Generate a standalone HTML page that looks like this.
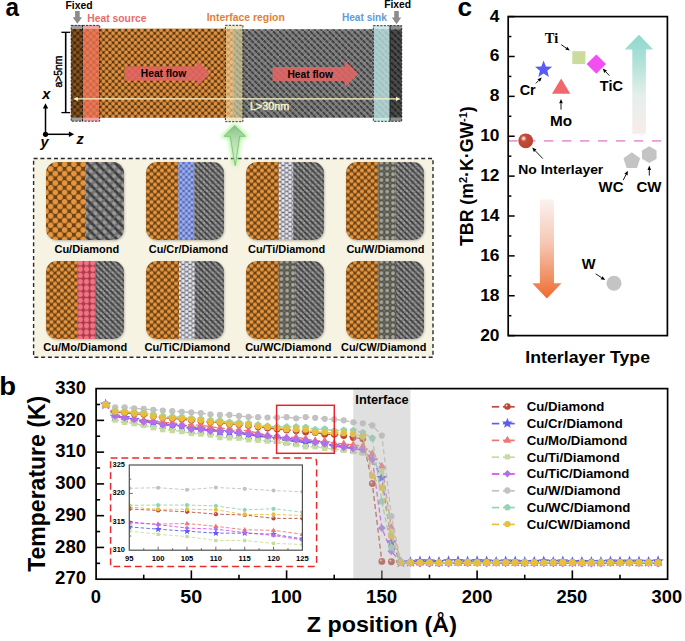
<!DOCTYPE html>
<html><head><meta charset="utf-8"><title>figure</title>
<style>html,body{margin:0;padding:0;background:#fff;width:685px;height:641px;overflow:hidden}svg{display:block}</style>
</head><body>
<svg width="685" height="641" viewBox="0 0 685 641">

<defs>
<pattern id="cuP" patternUnits="userSpaceOnUse" width="6.4" height="6.4" x="1.1" y="4.5">
 <rect width="6.4" height="6.4" fill="#5e3c14"/>
 <circle cx="0" cy="0" r="1.95" fill="#e39140"/><circle cx="6.4" cy="0" r="1.95" fill="#e39140"/>
 <circle cx="0" cy="6.4" r="1.95" fill="#e39140"/><circle cx="6.4" cy="6.4" r="1.95" fill="#e39140"/>
 <circle cx="3.2" cy="3.2" r="1.95" fill="#e39140"/>
 <circle cx="3.2" cy="0" r="0.7" fill="#3e2608"/><circle cx="0" cy="3.2" r="0.7" fill="#3e2608"/>
 <circle cx="6.4" cy="3.2" r="0.7" fill="#3e2608"/><circle cx="3.2" cy="6.4" r="0.7" fill="#3e2608"/>
</pattern>
<pattern id="cuT" patternUnits="userSpaceOnUse" width="9.3" height="9.4" x="0" y="2.2">
 <rect width="9.3" height="9.4" fill="#6a4416"/>
 <circle cx="0" cy="0" r="2.8" fill="#e8953e"/><circle cx="9.3" cy="0" r="2.8" fill="#e8953e"/>
 <circle cx="0" cy="9.4" r="2.8" fill="#e8953e"/><circle cx="9.3" cy="9.4" r="2.8" fill="#e8953e"/>
 <circle cx="4.65" cy="4.7" r="2.8" fill="#e8953e"/>
</pattern>
<pattern id="cuF" patternUnits="userSpaceOnUse" width="7" height="7" x="2" y="1.5">
 <rect width="7" height="7" fill="#6a4416"/>
 <circle cx="0" cy="0" r="2.05" fill="#e8953e"/><circle cx="7" cy="0" r="2.05" fill="#e8953e"/>
 <circle cx="0" cy="7" r="2.05" fill="#e8953e"/><circle cx="7" cy="7" r="2.05" fill="#e8953e"/>
 <circle cx="3.5" cy="3.5" r="2.05" fill="#e8953e"/>
</pattern>
<pattern id="dmP" patternUnits="userSpaceOnUse" width="6.2" height="6.2" x="0" y="0">
 <rect width="6.2" height="6.2" fill="#858585"/>
 <path d="M-1,-1 L7.2,7.2" stroke="#383838" stroke-width="1.8"/>
 <path d="M2.1,-1 L7.2,4.1 M-1,2.1 L4.1,7.2" stroke="#6a6a6a" stroke-width="0.7"/>
 <path d="M-1,7.2 L7.2,-1" stroke="#9a9a9a" stroke-width="0.6"/>
</pattern>
<pattern id="dmT" patternUnits="userSpaceOnUse" width="9.3" height="9.3" x="3" y="0">
 <rect width="9.3" height="9.3" fill="#7a7a7a"/>
 <path d="M-1,-1 L10.3,10.3" stroke="#3c3c3c" stroke-width="2.7"/>
 <circle cx="4.65" cy="0" r="1.9" fill="#9c9c9c"/><circle cx="0" cy="4.65" r="1.9" fill="#9c9c9c"/><circle cx="9.3" cy="4.65" r="1.9" fill="#9c9c9c"/><circle cx="4.65" cy="9.3" r="1.9" fill="#9c9c9c"/>
 <path d="M-1,10.3 L10.3,-1" stroke="#5a5a5a" stroke-width="0.6"/>
</pattern>
<pattern id="dmF" patternUnits="userSpaceOnUse" width="5.8" height="5.8" x="0" y="0">
 <rect width="5.8" height="5.8" fill="#7c7c7c"/>
 <path d="M-1,-1 L6.8,6.8" stroke="#3c3c3c" stroke-width="1.7"/>
 <circle cx="2.9" cy="0" r="1.1" fill="#a0a0a0"/><circle cx="0" cy="2.9" r="1.1" fill="#a0a0a0"/><circle cx="5.8" cy="2.9" r="1.1" fill="#a0a0a0"/><circle cx="2.9" cy="5.8" r="1.1" fill="#a0a0a0"/>
</pattern>
<pattern id="crT" patternUnits="userSpaceOnUse" width="5.6" height="5.6" x="1.2" y="1">
 <rect width="5.6" height="5.6" fill="#5264b0"/>
 <circle cx="0" cy="0" r="1.75" fill="#9cb0f0"/><circle cx="5.6" cy="0" r="1.75" fill="#9cb0f0"/><circle cx="0" cy="5.6" r="1.75" fill="#9cb0f0"/><circle cx="5.6" cy="5.6" r="1.75" fill="#9cb0f0"/>
 <circle cx="2.8" cy="2.8" r="1.75" fill="#9cb0f0"/>
</pattern>
<pattern id="tiT" patternUnits="userSpaceOnUse" width="7" height="4.7" x="0.4" y="1.2">
 <rect width="7" height="4.7" fill="#62626c"/>
 <circle cx="1.75" cy="0" r="1.85" fill="#e4e4ec"/><circle cx="1.75" cy="4.7" r="1.85" fill="#e4e4ec"/><circle cx="5.25" cy="2.35" r="1.85" fill="#e4e4ec"/>
</pattern>
<pattern id="moT" patternUnits="userSpaceOnUse" width="6.3" height="6.3" x="2.7" y="1.8">
 <rect width="6.3" height="6.3" fill="#a83a4c"/>
 <circle cx="0" cy="0" r="2.6" fill="#f27482"/><circle cx="6.3" cy="0" r="2.6" fill="#f27482"/><circle cx="0" cy="6.3" r="2.6" fill="#f27482"/><circle cx="6.3" cy="6.3" r="2.6" fill="#f27482"/>
</pattern>
<pattern id="wT" patternUnits="userSpaceOnUse" width="5.8" height="5.8" x="0.6" y="0.6">
 <rect width="5.8" height="5.8" fill="#55554e"/>
 <circle cx="0" cy="0" r="1.9" fill="#a8a898"/><circle cx="5.8" cy="0" r="1.9" fill="#a8a898"/><circle cx="0" cy="5.8" r="1.9" fill="#a8a898"/><circle cx="5.8" cy="5.8" r="1.9" fill="#a8a898"/>
 <circle cx="2.9" cy="2.9" r="0.9" fill="#7a7a70"/>
</pattern>
<linearGradient id="gTeal" x1="0" y1="0" x2="0" y2="1">
 <stop offset="0" stop-color="#8cd8cc"/><stop offset="0.3" stop-color="#b4e2da"/><stop offset="0.62" stop-color="#e6efeb"/><stop offset="1" stop-color="#f8ecea"/>
</linearGradient>
<linearGradient id="gOr" x1="0" y1="0" x2="0" y2="1">
 <stop offset="0" stop-color="#fbf2ef"/><stop offset="0.45" stop-color="#f6c6b2"/><stop offset="0.8" stop-color="#f08e60"/><stop offset="1" stop-color="#ee6a30"/>
</linearGradient>
<radialGradient id="gBall" cx="0.36" cy="0.36" r="0.75" fx="0.36" fy="0.34">
 <stop offset="0" stop-color="#fbeeea"/><stop offset="0.1" stop-color="#f0c8bc"/><stop offset="0.26" stop-color="#c44c38"/><stop offset="1" stop-color="#b63e2c"/>
</radialGradient>
<linearGradient id="gGreen" x1="0" y1="0" x2="0" y2="1"><stop offset="0" stop-color="#86c486"/><stop offset="0.35" stop-color="#b4dcb0"/><stop offset="1" stop-color="#e4f4e0"/></linearGradient>
<filter id="glow" x="-50%" y="-50%" width="200%" height="200%"><feGaussianBlur stdDeviation="2.2"/></filter>
<filter id="shd" x="-10%" y="-10%" width="120%" height="120%"><feGaussianBlur stdDeviation="0.8"/></filter>
<clipPath id="clipB"><rect x="96.1" y="388.6" width="571.5" height="190.6"/></clipPath>
<clipPath id="clipI"><rect x="129.3" y="465" width="173.1" height="85.2"/></clipPath>
</defs>

<text x="5.57" y="15.9" font-size="25" fill="#000" font-weight="bold" font-family="&quot;Liberation Sans&quot;, sans-serif" textLength="13.51" lengthAdjust="spacingAndGlyphs" >a</text>
<text x="65.42" y="8.7" font-size="10.4" fill="#000" font-weight="bold" font-family="&quot;Liberation Sans&quot;, sans-serif" textLength="27.17" lengthAdjust="spacingAndGlyphs" >Fixed</text>
<text x="384.13" y="8.4" font-size="10.4" fill="#000" font-weight="bold" font-family="&quot;Liberation Sans&quot;, sans-serif" textLength="26.96" lengthAdjust="spacingAndGlyphs" >Fixed</text>
<polygon points="75.1,10.9 79.7,10.9 79.7,17.35 82.1,17.35 77.4,23.8 72.7,17.35 75.1,17.35" fill="#8c8c8c"/>
<polygon points="394.2,11 398.8,11 398.8,17.6 401.2,17.6 396.5,24.2 391.8,17.6 394.2,17.6" fill="#8c8c8c"/>
<text x="87.23" y="21.5" font-size="10.4" fill="#e66c6c" font-weight="bold" font-family="&quot;Liberation Sans&quot;, sans-serif" textLength="59.23" lengthAdjust="spacingAndGlyphs" >Heat source</text>
<text x="206.72" y="20.6" font-size="10.4" fill="#e27f38" font-weight="bold" font-family="&quot;Liberation Sans&quot;, sans-serif" textLength="78.12" lengthAdjust="spacingAndGlyphs" >Interface region</text>
<text x="341.94" y="21" font-size="10.4" fill="#609dd7" font-weight="bold" font-family="&quot;Liberation Sans&quot;, sans-serif" textLength="44.97" lengthAdjust="spacingAndGlyphs" >Heat sink</text>
<rect x="71.2" y="28.6" width="162.5" height="89.2" fill="url(#cuP)"/>
<rect x="233.7" y="29.2" width="168" height="88.6" fill="url(#dmP)"/>
<rect x="71.2" y="28.6" width="11.3" height="89.2" fill="#2a1602" fill-opacity="0.5"/>
<rect x="71.2" y="25.1" width="11.3" height="3.5" fill="#a0a0a0"/><rect x="71.2" y="117.8" width="11.3" height="3.4" fill="#a0a0a0"/>
<rect x="82.5" y="28.6" width="17.2" height="89.2" fill="#ee7258" fill-opacity="0.76"/>
<rect x="82.5" y="25.1" width="17.2" height="3.5" fill="#f2a4a4"/><rect x="82.5" y="117.8" width="17.2" height="3.4" fill="#f2a4a4"/>
<rect x="225.4" y="28.6" width="8.3" height="89.2" fill="#f6d8a0" fill-opacity="0.62"/>
<rect x="233.7" y="29" width="9.2" height="88.6" fill="#e6dca0" fill-opacity="0.6"/>
<rect x="225.4" y="25" width="17.5" height="3.8" fill="#f2e8c4"/><rect x="225.4" y="117.6" width="17.5" height="4.1" fill="#f2e8c4"/>
<rect x="373.3" y="29.2" width="16.7" height="88.6" fill="#bce6e6" fill-opacity="0.78"/>
<rect x="373.3" y="25.4" width="16.7" height="3.8" fill="#cdeaea"/><rect x="373.3" y="117.8" width="16.7" height="3.5" fill="#cdeaea"/>
<rect x="390" y="29.2" width="11.7" height="88.6" fill="#000" fill-opacity="0.42"/>
<rect x="390" y="25.4" width="11.7" height="3.8" fill="#8e8e8e"/><rect x="390" y="117.8" width="11.7" height="3.5" fill="#8e8e8e"/>
<rect x="71.2" y="25.4" width="11.3" height="95.8" fill="none" stroke="#222" stroke-width="0.9" stroke-dasharray="2.2,1.3"/>
<rect x="82.5" y="25.4" width="17.2" height="95.8" fill="none" stroke="#222" stroke-width="0.9" stroke-dasharray="2.2,1.3"/>
<rect x="225.4" y="25.3" width="17.5" height="96.4" fill="none" stroke="#222" stroke-width="0.9" stroke-dasharray="2.2,1.3"/>
<rect x="373.3" y="25.7" width="16.7" height="95.6" fill="none" stroke="#222" stroke-width="0.9" stroke-dasharray="2.2,1.3"/>
<rect x="390" y="25.7" width="11.7" height="95.6" fill="none" stroke="#222" stroke-width="0.9" stroke-dasharray="2.2,1.3"/>
<polygon points="124.9,66.6 196.7,66.6 196.7,60.5 210.2,73.65 196.7,86.8 196.7,80.7 124.9,80.7" fill="#e26464" fill-opacity="0.88"/>
<polygon points="272.6,67 344.6,67 344.6,60.4 358.5,74 344.6,87.6 344.6,81 272.6,81" fill="#e26464" fill-opacity="0.88"/>
<text x="140.84" y="77.2" font-size="10.4" fill="#000" font-weight="bold" font-family="&quot;Liberation Sans&quot;, sans-serif" textLength="45.46" lengthAdjust="spacingAndGlyphs" >Heat flow</text>
<text x="287.44" y="77.6" font-size="10.4" fill="#000" font-weight="bold" font-family="&quot;Liberation Sans&quot;, sans-serif" textLength="45.46" lengthAdjust="spacingAndGlyphs" >Heat flow</text>
<line x1="76" y1="98.9" x2="398" y2="98.9" stroke="#f6f2c6" stroke-width="1.4"/>
<polygon points="73.2,98.9 77.8,96.8 77.8,101" fill="#f6f2c6"/><polygon points="400.6,98.9 396,96.8 396,101" fill="#f6f2c6"/>
<text x="249.93" y="109.5" font-size="10.6" fill="#f4f0c6" font-weight="normal" font-family="&quot;Liberation Sans&quot;, sans-serif" textLength="39.43" lengthAdjust="spacingAndGlyphs" stroke="#f4f0c6" stroke-width="0.5">L&gt;30nm</text>
<line x1="65.7" y1="32.3" x2="65.7" y2="112.6" stroke="#000" stroke-width="1.6"/>
<line x1="61.4" y1="32.3" x2="70" y2="32.3" stroke="#000" stroke-width="1.3"/><line x1="61.4" y1="112.6" x2="70" y2="112.6" stroke="#000" stroke-width="1.3"/>
<text x="0" y="0" font-size="10.3" text-anchor="middle" fill="#000" font-weight="normal" font-family="&quot;Liberation Sans&quot;, sans-serif" stroke="#000" stroke-width="0.45" transform="translate(62.3,71.6) rotate(-90)">a&gt;5nm</text>
<line x1="45.5" y1="134.3" x2="45.5" y2="107" stroke="#000" stroke-width="1.5"/>
<polygon points="45.5,103.2 42.8,108.5 48.2,108.5" fill="#000"/>
<line x1="45.5" y1="134.3" x2="70.5" y2="134.3" stroke="#000" stroke-width="1.5"/>
<polygon points="74.2,134.3 68.9,131.6 68.9,137" fill="#000"/>
<circle cx="45.5" cy="134.3" r="2.6" fill="#000"/>
<text x="42.3" y="99.2" font-size="14.5" text-anchor="start" fill="#000" font-weight="bold" font-family="&quot;Liberation Sans&quot;, sans-serif" font-style="italic">x</text>
<text x="76.6" y="144.2" font-size="14.5" text-anchor="start" fill="#000" font-weight="bold" font-family="&quot;Liberation Sans&quot;, sans-serif" font-style="italic">z</text>
<text x="40.5" y="146.6" font-size="14.5" text-anchor="start" fill="#000" font-weight="bold" font-family="&quot;Liberation Sans&quot;, sans-serif" font-style="italic">y</text>
<rect x="33.6" y="158.5" width="399.4" height="198.7" fill="#f6f3e3" stroke="#2a2a2a" stroke-width="1.4" stroke-dasharray="4,2.8"/>
<polygon points="234.7,125.6 245.4,136.3 239.7,136.3 235.2,165.5 230.2,136.3 224.1,136.3" fill="#8ef070" stroke="#8ef070" stroke-width="3" filter="url(#glow)" opacity="0.85"/>
<polygon points="234.7,125.6 245.4,136.3 239.7,136.3 235.2,165.5 230.2,136.3 224.1,136.3" fill="url(#gGreen)" stroke="#6cb46c" stroke-width="0.7"/>
<rect x="46.6" y="163" width="78" height="78" rx="11" fill="#000" fill-opacity="0.25" filter="url(#shd)"/>
<g transform="translate(46,162)">
<clipPath id="tc0"><rect x="0" y="0" width="78" height="78" rx="11" ry="11"/></clipPath>
<g clip-path="url(#tc0)">
<rect x="0" y="0" width="40" height="78" fill="url(#cuT)"/>
<rect x="40" y="0" width="38" height="78" fill="url(#dmT)"/>
</g></g>
<text x="54.46" y="252.7" font-size="10.9" fill="#000" font-weight="bold" font-family="&quot;Liberation Sans&quot;, sans-serif" textLength="64.74" lengthAdjust="spacingAndGlyphs" >Cu/Diamond</text>
<rect x="146.6" y="163" width="78" height="78" rx="11" fill="#000" fill-opacity="0.25" filter="url(#shd)"/>
<g transform="translate(146,162)">
<clipPath id="tc1"><rect x="0" y="0" width="78" height="78" rx="11" ry="11"/></clipPath>
<g clip-path="url(#tc1)">
<rect x="0" y="0" width="32.4" height="78" fill="url(#cuF)"/>
<rect x="32.4" y="0" width="16" height="78" fill="url(#crT)"/>
<rect x="48.4" y="0" width="29.6" height="78" fill="url(#dmF)"/>
</g></g>
<text x="148.76" y="252.7" font-size="10.9" fill="#000" font-weight="bold" font-family="&quot;Liberation Sans&quot;, sans-serif" textLength="79.38" lengthAdjust="spacingAndGlyphs" >Cu/Cr/Diamond</text>
<rect x="246.6" y="163" width="78" height="78" rx="11" fill="#000" fill-opacity="0.25" filter="url(#shd)"/>
<g transform="translate(246,162)">
<clipPath id="tc2"><rect x="0" y="0" width="78" height="78" rx="11" ry="11"/></clipPath>
<g clip-path="url(#tc2)">
<rect x="0" y="0" width="32.8" height="78" fill="url(#cuF)"/>
<rect x="32.8" y="0" width="14.5" height="78" fill="url(#tiT)"/>
<rect x="47.3" y="0" width="30.7" height="78" fill="url(#dmF)"/>
</g></g>
<text x="248.01" y="252.7" font-size="10.9" fill="#000" font-weight="bold" font-family="&quot;Liberation Sans&quot;, sans-serif" textLength="77.07" lengthAdjust="spacingAndGlyphs" >Cu/Ti/Diamond</text>
<rect x="346.6" y="163" width="78" height="78" rx="11" fill="#000" fill-opacity="0.25" filter="url(#shd)"/>
<g transform="translate(346,162)">
<clipPath id="tc3"><rect x="0" y="0" width="78" height="78" rx="11" ry="11"/></clipPath>
<g clip-path="url(#tc3)">
<rect x="0" y="0" width="32.4" height="78" fill="url(#cuF)"/>
<rect x="32.4" y="0" width="17" height="78" fill="url(#wT)"/>
<rect x="49.4" y="0" width="28.6" height="78" fill="url(#dmF)"/>
</g></g>
<text x="346.46" y="252.7" font-size="10.9" fill="#000" font-weight="bold" font-family="&quot;Liberation Sans&quot;, sans-serif" textLength="77.96" lengthAdjust="spacingAndGlyphs" >Cu/W/Diamond</text>
<rect x="46.6" y="262" width="78" height="78" rx="11" fill="#000" fill-opacity="0.25" filter="url(#shd)"/>
<g transform="translate(46,261)">
<clipPath id="tc4"><rect x="0" y="0" width="78" height="78" rx="11" ry="11"/></clipPath>
<g clip-path="url(#tc4)">
<rect x="0" y="0" width="31.5" height="78" fill="url(#cuF)"/>
<rect x="31.5" y="0" width="18.3" height="78" fill="url(#moT)"/>
<rect x="49.8" y="0" width="28.2" height="78" fill="url(#dmF)"/>
</g></g>
<text x="43.36" y="350.8" font-size="10.9" fill="#000" font-weight="bold" font-family="&quot;Liberation Sans&quot;, sans-serif" textLength="83.76" lengthAdjust="spacingAndGlyphs" >Cu/Mo/Diamond</text>
<rect x="146.6" y="262" width="78" height="78" rx="11" fill="#000" fill-opacity="0.25" filter="url(#shd)"/>
<g transform="translate(146,261)">
<clipPath id="tc5"><rect x="0" y="0" width="78" height="78" rx="11" ry="11"/></clipPath>
<g clip-path="url(#tc5)">
<rect x="0" y="0" width="33" height="78" fill="url(#cuF)"/>
<rect x="33" y="0" width="15.7" height="78" fill="url(#tiT)"/>
<rect x="48.7" y="0" width="29.3" height="78" fill="url(#dmF)"/>
</g></g>
<text x="144.41" y="350.8" font-size="10.9" fill="#000" font-weight="bold" font-family="&quot;Liberation Sans&quot;, sans-serif" textLength="85.85" lengthAdjust="spacingAndGlyphs" >Cu/TiC/Diamond</text>
<rect x="246.6" y="262" width="78" height="78" rx="11" fill="#000" fill-opacity="0.25" filter="url(#shd)"/>
<g transform="translate(246,261)">
<clipPath id="tc6"><rect x="0" y="0" width="78" height="78" rx="11" ry="11"/></clipPath>
<g clip-path="url(#tc6)">
<rect x="0" y="0" width="32.8" height="78" fill="url(#cuF)"/>
<rect x="32.8" y="0" width="16.4" height="78" fill="url(#wT)"/>
<rect x="49.2" y="0" width="28.8" height="78" fill="url(#dmF)"/>
</g></g>
<text x="245.16" y="350.8" font-size="10.9" fill="#000" font-weight="bold" font-family="&quot;Liberation Sans&quot;, sans-serif" textLength="86.39" lengthAdjust="spacingAndGlyphs" >Cu/WC/Diamond</text>
<rect x="346.6" y="262" width="78" height="78" rx="11" fill="#000" fill-opacity="0.25" filter="url(#shd)"/>
<g transform="translate(346,261)">
<clipPath id="tc7"><rect x="0" y="0" width="78" height="78" rx="11" ry="11"/></clipPath>
<g clip-path="url(#tc7)">
<rect x="0" y="0" width="32.4" height="78" fill="url(#cuF)"/>
<rect x="32.4" y="0" width="17.6" height="78" fill="url(#wT)"/>
<rect x="50" y="0" width="28" height="78" fill="url(#dmF)"/>
</g></g>
<text x="341.11" y="350.8" font-size="10.9" fill="#000" font-weight="bold" font-family="&quot;Liberation Sans&quot;, sans-serif" textLength="85.27" lengthAdjust="spacingAndGlyphs" >Cu/CW/Diamond</text>
<text x="457.45" y="15.8" font-size="25" fill="#000" font-weight="bold" font-family="&quot;Liberation Sans&quot;, sans-serif" textLength="14.56" lengthAdjust="spacingAndGlyphs" >c</text>
<polygon points="638.95,34.7 653.3,49.4 645.9,49.4 645.9,133.8 632.3,133.8 632.3,49.4 624.6,49.4" fill="url(#gTeal)"/>
<polygon points="539.9,199.6 554,199.6 554,283.3 561.5,283.3 546.9,298.4 532.3,283.3 539.9,283.3" fill="url(#gOr)"/>
<line x1="508.2" y1="140.9" x2="664" y2="140.9" stroke="#e89ada" stroke-width="1.8" stroke-dasharray="9.2,8.76"/>
<rect x="508.2" y="16.6" width="159.2" height="319" fill="none" stroke="#000" stroke-width="1.7"/>
<line x1="508.2" y1="16.6" x2="514.7" y2="16.6" stroke="#000" stroke-width="1.5"/>
<text x="499.5" y="21.6" font-size="17.4" text-anchor="end" fill="#000" font-weight="bold" font-family="&quot;Liberation Sans&quot;, sans-serif" >4</text>
<line x1="508.2" y1="36.54" x2="511.4" y2="36.54" stroke="#000" stroke-width="1.5"/>
<line x1="508.2" y1="56.48" x2="514.7" y2="56.48" stroke="#000" stroke-width="1.5"/>
<text x="499.5" y="61.48" font-size="17.4" text-anchor="end" fill="#000" font-weight="bold" font-family="&quot;Liberation Sans&quot;, sans-serif" >6</text>
<line x1="508.2" y1="76.42" x2="511.4" y2="76.42" stroke="#000" stroke-width="1.5"/>
<line x1="508.2" y1="96.36" x2="514.7" y2="96.36" stroke="#000" stroke-width="1.5"/>
<text x="499.5" y="101.36" font-size="17.4" text-anchor="end" fill="#000" font-weight="bold" font-family="&quot;Liberation Sans&quot;, sans-serif" >8</text>
<line x1="508.2" y1="116.3" x2="511.4" y2="116.3" stroke="#000" stroke-width="1.5"/>
<line x1="508.2" y1="136.24" x2="514.7" y2="136.24" stroke="#000" stroke-width="1.5"/>
<text x="499.5" y="141.24" font-size="17.4" text-anchor="end" fill="#000" font-weight="bold" font-family="&quot;Liberation Sans&quot;, sans-serif" >10</text>
<line x1="508.2" y1="156.18" x2="511.4" y2="156.18" stroke="#000" stroke-width="1.5"/>
<line x1="508.2" y1="176.12" x2="514.7" y2="176.12" stroke="#000" stroke-width="1.5"/>
<text x="499.5" y="181.12" font-size="17.4" text-anchor="end" fill="#000" font-weight="bold" font-family="&quot;Liberation Sans&quot;, sans-serif" >12</text>
<line x1="508.2" y1="196.06" x2="511.4" y2="196.06" stroke="#000" stroke-width="1.5"/>
<line x1="508.2" y1="216" x2="514.7" y2="216" stroke="#000" stroke-width="1.5"/>
<text x="499.5" y="221" font-size="17.4" text-anchor="end" fill="#000" font-weight="bold" font-family="&quot;Liberation Sans&quot;, sans-serif" >14</text>
<line x1="508.2" y1="235.94" x2="511.4" y2="235.94" stroke="#000" stroke-width="1.5"/>
<line x1="508.2" y1="255.88" x2="514.7" y2="255.88" stroke="#000" stroke-width="1.5"/>
<text x="499.5" y="260.88" font-size="17.4" text-anchor="end" fill="#000" font-weight="bold" font-family="&quot;Liberation Sans&quot;, sans-serif" >16</text>
<line x1="508.2" y1="275.82" x2="511.4" y2="275.82" stroke="#000" stroke-width="1.5"/>
<line x1="508.2" y1="295.76" x2="514.7" y2="295.76" stroke="#000" stroke-width="1.5"/>
<text x="499.5" y="300.76" font-size="17.4" text-anchor="end" fill="#000" font-weight="bold" font-family="&quot;Liberation Sans&quot;, sans-serif" >18</text>
<line x1="508.2" y1="315.7" x2="511.4" y2="315.7" stroke="#000" stroke-width="1.5"/>
<line x1="508.2" y1="335.64" x2="514.7" y2="335.64" stroke="#000" stroke-width="1.5"/>
<text x="499.5" y="340.64" font-size="17.4" text-anchor="end" fill="#000" font-weight="bold" font-family="&quot;Liberation Sans&quot;, sans-serif" >20</text>
<text x="0" y="0" font-size="17.7" text-anchor="middle" fill="#000" font-weight="bold" font-family="&quot;Liberation Sans&quot;, sans-serif" transform="translate(473.2,176.1) rotate(-90)">TBR (m<tspan font-size="11" dy="-6">2</tspan><tspan dy="6">·K·GW</tspan><tspan font-size="11" dy="-6">-1</tspan><tspan dy="6">)</tspan></text>
<text x="525.35" y="362.6" font-size="17.3" fill="#000" font-weight="bold" font-family="&quot;Liberation Sans&quot;, sans-serif" textLength="124.67" lengthAdjust="spacingAndGlyphs" >Interlayer Type</text>
<rect x="572.3" y="51.2" width="13.1" height="12.9" fill="#c9dc9c"/>
<polygon points="596.3,54.4 606,64.1 596.3,73.8 586.6,64.1" fill="#f24ef2"/>
<polygon points="543.6,60.6 545.89,66.44 552.16,66.82 547.31,70.81 548.89,76.88 543.6,73.5 538.31,76.88 539.89,70.81 535.04,66.82 541.31,66.44" fill="#5a5af6"/>
<polygon points="561.15,78.4 570.3,93.8 552,93.8" fill="#f0686e"/>
<circle cx="525.7" cy="140.8" r="7.4" fill="url(#gBall)"/>
<polygon points="631.8,152.2 640.17,158.28 636.97,168.12 626.63,168.12 623.43,158.28" fill="#c4c4c4"/>
<polygon points="649.3,146.2 656.57,150.4 656.57,158.8 649.3,163 642.03,158.8 642.03,150.4" fill="#c4c4c4"/>
<circle cx="614" cy="283.3" r="7.5" fill="#c4c4c4"/>
<text x="544.78" y="42.6" font-size="15.5" fill="#000" font-weight="bold" font-family="&quot;Liberation Serif&quot;, serif" textLength="13.39" lengthAdjust="spacingAndGlyphs" >Ti</text>
<text x="519.72" y="95" font-size="14.8" fill="#000" font-weight="bold" font-family="&quot;Liberation Sans&quot;, sans-serif" textLength="16.01" lengthAdjust="spacingAndGlyphs" >Cr</text>
<text x="550.11" y="125.7" font-size="14.8" fill="#000" font-weight="bold" font-family="&quot;Liberation Sans&quot;, sans-serif" textLength="22.09" lengthAdjust="spacingAndGlyphs" >Mo</text>
<text x="599.86" y="91.1" font-size="14.8" fill="#000" font-weight="bold" font-family="&quot;Liberation Sans&quot;, sans-serif" textLength="23.05" lengthAdjust="spacingAndGlyphs" >TiC</text>
<text x="518.3" y="174" font-size="13.4" fill="#000" font-weight="bold" font-family="&quot;Liberation Sans&quot;, sans-serif" textLength="84.99" lengthAdjust="spacingAndGlyphs" >No Interlayer</text>
<text x="598.6" y="192.3" font-size="14.8" fill="#000" font-weight="bold" font-family="&quot;Liberation Sans&quot;, sans-serif" textLength="24.79" lengthAdjust="spacingAndGlyphs" >WC</text>
<text x="636.5" y="192.3" font-size="14.8" fill="#000" font-weight="bold" font-family="&quot;Liberation Sans&quot;, sans-serif" textLength="25.02" lengthAdjust="spacingAndGlyphs" >CW</text>
<text x="581.7" y="269.4" font-size="14.8" fill="#000" font-weight="bold" font-family="&quot;Liberation Sans&quot;, sans-serif" textLength="13.78" lengthAdjust="spacingAndGlyphs" >W</text>
<line x1="561.2" y1="44.6" x2="566.27" y2="48.14" stroke="#000" stroke-width="0.9"/>
<polygon points="569.8,50.6 565.24,49.62 567.3,46.66" fill="#000"/>
<line x1="609.4" y1="75.6" x2="605.67" y2="71.71" stroke="#000" stroke-width="0.9"/>
<polygon points="602.7,68.6 606.97,70.46 604.37,72.95" fill="#000"/>
<line x1="535.8" y1="83.4" x2="538.76" y2="80.44" stroke="#000" stroke-width="0.9"/>
<polygon points="541.8,77.4 540.03,81.71 537.49,79.17" fill="#000"/>
<line x1="561" y1="109.6" x2="561" y2="103.3" stroke="#000" stroke-width="0.9"/>
<polygon points="561,99 562.8,103.3 559.2,103.3" fill="#000"/>
<line x1="542.8" y1="158.6" x2="535.18" y2="150.7" stroke="#000" stroke-width="0.9"/>
<polygon points="532.2,147.6 536.48,149.45 533.89,151.95" fill="#000"/>
<line x1="623.2" y1="180.2" x2="625.98" y2="174.65" stroke="#000" stroke-width="0.9"/>
<polygon points="627.9,170.8 627.59,175.45 624.37,173.84" fill="#000"/>
<line x1="649.3" y1="175.6" x2="649.3" y2="169.9" stroke="#000" stroke-width="0.9"/>
<polygon points="649.3,165.6 651.1,169.9 647.5,169.9" fill="#000"/>
<line x1="595.6" y1="273.8" x2="601.59" y2="277.67" stroke="#000" stroke-width="0.9"/>
<polygon points="605.2,280 600.61,279.18 602.56,276.16" fill="#000"/>
<text x="-0.69" y="395" font-size="25" fill="#000" font-weight="bold" font-family="&quot;Liberation Sans&quot;, sans-serif" textLength="16.81" lengthAdjust="spacingAndGlyphs" >b</text>
<text x="55.05" y="584.42" font-size="17.6" fill="#000" font-weight="bold" font-family="&quot;Liberation Sans&quot;, sans-serif" textLength="31.06" lengthAdjust="spacingAndGlyphs" >270</text>
<line x1="96.1" y1="563.34" x2="100.1" y2="563.34" stroke="#000" stroke-width="1.6"/>
<line x1="96.1" y1="547.45" x2="104.1" y2="547.45" stroke="#000" stroke-width="1.6"/>
<text x="55.05" y="552.65" font-size="17.6" fill="#000" font-weight="bold" font-family="&quot;Liberation Sans&quot;, sans-serif" textLength="31.06" lengthAdjust="spacingAndGlyphs" >280</text>
<line x1="96.1" y1="531.57" x2="100.1" y2="531.57" stroke="#000" stroke-width="1.6"/>
<line x1="96.1" y1="515.68" x2="104.1" y2="515.68" stroke="#000" stroke-width="1.6"/>
<text x="55.05" y="520.88" font-size="17.6" fill="#000" font-weight="bold" font-family="&quot;Liberation Sans&quot;, sans-serif" textLength="31.06" lengthAdjust="spacingAndGlyphs" >290</text>
<line x1="96.1" y1="499.8" x2="100.1" y2="499.8" stroke="#000" stroke-width="1.6"/>
<line x1="96.1" y1="483.91" x2="104.1" y2="483.91" stroke="#000" stroke-width="1.6"/>
<text x="55.24" y="489.11" font-size="17.6" fill="#000" font-weight="bold" font-family="&quot;Liberation Sans&quot;, sans-serif" textLength="30.87" lengthAdjust="spacingAndGlyphs" >300</text>
<line x1="96.1" y1="468.03" x2="100.1" y2="468.03" stroke="#000" stroke-width="1.6"/>
<line x1="96.1" y1="452.14" x2="104.1" y2="452.14" stroke="#000" stroke-width="1.6"/>
<text x="55.24" y="457.34" font-size="17.6" fill="#000" font-weight="bold" font-family="&quot;Liberation Sans&quot;, sans-serif" textLength="30.87" lengthAdjust="spacingAndGlyphs" >310</text>
<line x1="96.1" y1="436.25" x2="100.1" y2="436.25" stroke="#000" stroke-width="1.6"/>
<line x1="96.1" y1="420.37" x2="104.1" y2="420.37" stroke="#000" stroke-width="1.6"/>
<text x="55.24" y="425.57" font-size="17.6" fill="#000" font-weight="bold" font-family="&quot;Liberation Sans&quot;, sans-serif" textLength="30.87" lengthAdjust="spacingAndGlyphs" >320</text>
<line x1="96.1" y1="404.49" x2="100.1" y2="404.49" stroke="#000" stroke-width="1.6"/>
<text x="55.24" y="393.8" font-size="17.6" fill="#000" font-weight="bold" font-family="&quot;Liberation Sans&quot;, sans-serif" textLength="30.87" lengthAdjust="spacingAndGlyphs" >330</text>
<text x="90.77" y="602.6" font-size="17.6" fill="#000" font-weight="bold" font-family="&quot;Liberation Sans&quot;, sans-serif" textLength="10.19" lengthAdjust="spacingAndGlyphs" >0</text>
<line x1="143.72" y1="579.2" x2="143.72" y2="574.7" stroke="#000" stroke-width="1.6"/>
<line x1="191.35" y1="579.2" x2="191.35" y2="570.4" stroke="#000" stroke-width="1.6"/>
<text x="180.31" y="602.6" font-size="17.6" fill="#000" font-weight="bold" font-family="&quot;Liberation Sans&quot;, sans-serif" textLength="21.93" lengthAdjust="spacingAndGlyphs" >50</text>
<line x1="238.97" y1="579.2" x2="238.97" y2="574.7" stroke="#000" stroke-width="1.6"/>
<line x1="286.6" y1="579.2" x2="286.6" y2="570.4" stroke="#000" stroke-width="1.6"/>
<text x="270.78" y="602.6" font-size="17.6" fill="#000" font-weight="bold" font-family="&quot;Liberation Sans&quot;, sans-serif" textLength="31.13" lengthAdjust="spacingAndGlyphs" >100</text>
<line x1="334.23" y1="579.2" x2="334.23" y2="574.7" stroke="#000" stroke-width="1.6"/>
<line x1="381.85" y1="579.2" x2="381.85" y2="570.4" stroke="#000" stroke-width="1.6"/>
<text x="366.13" y="602.6" font-size="17.6" fill="#000" font-weight="bold" font-family="&quot;Liberation Sans&quot;, sans-serif" textLength="31.13" lengthAdjust="spacingAndGlyphs" >150</text>
<line x1="429.48" y1="579.2" x2="429.48" y2="574.7" stroke="#000" stroke-width="1.6"/>
<line x1="477.1" y1="579.2" x2="477.1" y2="570.4" stroke="#000" stroke-width="1.6"/>
<text x="461.86" y="602.6" font-size="17.6" fill="#000" font-weight="bold" font-family="&quot;Liberation Sans&quot;, sans-serif" textLength="30.64" lengthAdjust="spacingAndGlyphs" >200</text>
<line x1="524.73" y1="579.2" x2="524.73" y2="574.7" stroke="#000" stroke-width="1.6"/>
<line x1="572.35" y1="579.2" x2="572.35" y2="570.4" stroke="#000" stroke-width="1.6"/>
<text x="556.61" y="602.6" font-size="17.6" fill="#000" font-weight="bold" font-family="&quot;Liberation Sans&quot;, sans-serif" textLength="30.64" lengthAdjust="spacingAndGlyphs" >250</text>
<line x1="619.98" y1="579.2" x2="619.98" y2="574.7" stroke="#000" stroke-width="1.6"/>
<text x="651.64" y="602.6" font-size="17.6" fill="#000" font-weight="bold" font-family="&quot;Liberation Sans&quot;, sans-serif" textLength="30.45" lengthAdjust="spacingAndGlyphs" >300</text>
<text x="0" y="0" font-size="23" text-anchor="middle" fill="#000" font-weight="bold" font-family="&quot;Liberation Sans&quot;, sans-serif" transform="translate(44.6,483.8) rotate(-90)">Temperature (K)</text>
<text x="306.7" y="631.8" font-size="22.0" fill="#000" font-weight="bold" font-family="&quot;Liberation Sans&quot;, sans-serif" textLength="150.22" lengthAdjust="spacingAndGlyphs" >Z position (Å)</text>
<g clip-path="url(#clipB)">
<polyline points="105.62,404.49 115.15,412.11 124.67,412.75 134.2,414.02 143.72,414.33 153.25,416.24 162.77,417.83 172.3,418.46 181.82,419.1 191.35,420.37 200.88,421.01 210.4,422.28 219.93,422.59 229.45,424.18 238.97,424.5 248.5,425.45 258.02,426.72 267.55,427.99 277.07,429.11 286.6,429.9 296.12,430.66 305.65,431.97 315.18,432.44 324.7,434.35 334.23,434.35 343.75,435.62 353.27,437.53 362.8,438.8 372.33,483.59 381.85,561.43 391.38,561.75 400.9,562.38 410.42,562.32 419.95,562.15 429.48,562.98 439,563.01 448.52,562.07 458.05,562.71 467.58,562.83 477.1,562.54 486.62,562.49 496.15,562.31 505.67,562.44 515.2,562.5 524.73,562.3 534.25,562.77 543.77,562.57 553.3,562.17 562.83,562.33 572.35,562.44 581.88,562.9 591.4,562.12 600.92,562.98 610.45,562.24 619.98,562.87 629.5,562.54 639.02,562.36 648.55,562.51 658.08,563.01" fill="none" stroke="#b84c3c" stroke-width="1.3" stroke-dasharray="5,3"/>
<circle cx="105.62" cy="404.49" r="3.4" fill="url(#gBall)"/>
<circle cx="115.15" cy="412.11" r="3.4" fill="url(#gBall)"/>
<circle cx="124.67" cy="412.75" r="3.4" fill="url(#gBall)"/>
<circle cx="134.2" cy="414.02" r="3.4" fill="url(#gBall)"/>
<circle cx="143.72" cy="414.33" r="3.4" fill="url(#gBall)"/>
<circle cx="153.25" cy="416.24" r="3.4" fill="url(#gBall)"/>
<circle cx="162.77" cy="417.83" r="3.4" fill="url(#gBall)"/>
<circle cx="172.3" cy="418.46" r="3.4" fill="url(#gBall)"/>
<circle cx="181.82" cy="419.1" r="3.4" fill="url(#gBall)"/>
<circle cx="191.35" cy="420.37" r="3.4" fill="url(#gBall)"/>
<circle cx="200.88" cy="421.01" r="3.4" fill="url(#gBall)"/>
<circle cx="210.4" cy="422.28" r="3.4" fill="url(#gBall)"/>
<circle cx="219.93" cy="422.59" r="3.4" fill="url(#gBall)"/>
<circle cx="229.45" cy="424.18" r="3.4" fill="url(#gBall)"/>
<circle cx="238.97" cy="424.5" r="3.4" fill="url(#gBall)"/>
<circle cx="248.5" cy="425.45" r="3.4" fill="url(#gBall)"/>
<circle cx="258.02" cy="426.72" r="3.4" fill="url(#gBall)"/>
<circle cx="267.55" cy="427.99" r="3.4" fill="url(#gBall)"/>
<circle cx="277.07" cy="429.11" r="3.4" fill="url(#gBall)"/>
<circle cx="286.6" cy="429.9" r="3.4" fill="url(#gBall)"/>
<circle cx="296.12" cy="430.66" r="3.4" fill="url(#gBall)"/>
<circle cx="305.65" cy="431.97" r="3.4" fill="url(#gBall)"/>
<circle cx="315.18" cy="432.44" r="3.4" fill="url(#gBall)"/>
<circle cx="324.7" cy="434.35" r="3.4" fill="url(#gBall)"/>
<circle cx="334.23" cy="434.35" r="3.4" fill="url(#gBall)"/>
<circle cx="343.75" cy="435.62" r="3.4" fill="url(#gBall)"/>
<circle cx="353.27" cy="437.53" r="3.4" fill="url(#gBall)"/>
<circle cx="362.8" cy="438.8" r="3.4" fill="url(#gBall)"/>
<circle cx="372.33" cy="483.59" r="3.4" fill="url(#gBall)"/>
<circle cx="381.85" cy="561.43" r="3.4" fill="url(#gBall)"/>
<circle cx="391.38" cy="561.75" r="3.4" fill="url(#gBall)"/>
<circle cx="400.9" cy="562.38" r="3.4" fill="url(#gBall)"/>
<circle cx="410.42" cy="562.32" r="3.4" fill="url(#gBall)"/>
<circle cx="419.95" cy="562.15" r="3.4" fill="url(#gBall)"/>
<circle cx="429.48" cy="562.98" r="3.4" fill="url(#gBall)"/>
<circle cx="439" cy="563.01" r="3.4" fill="url(#gBall)"/>
<circle cx="448.52" cy="562.07" r="3.4" fill="url(#gBall)"/>
<circle cx="458.05" cy="562.71" r="3.4" fill="url(#gBall)"/>
<circle cx="467.58" cy="562.83" r="3.4" fill="url(#gBall)"/>
<circle cx="477.1" cy="562.54" r="3.4" fill="url(#gBall)"/>
<circle cx="486.62" cy="562.49" r="3.4" fill="url(#gBall)"/>
<circle cx="496.15" cy="562.31" r="3.4" fill="url(#gBall)"/>
<circle cx="505.67" cy="562.44" r="3.4" fill="url(#gBall)"/>
<circle cx="515.2" cy="562.5" r="3.4" fill="url(#gBall)"/>
<circle cx="524.73" cy="562.3" r="3.4" fill="url(#gBall)"/>
<circle cx="534.25" cy="562.77" r="3.4" fill="url(#gBall)"/>
<circle cx="543.77" cy="562.57" r="3.4" fill="url(#gBall)"/>
<circle cx="553.3" cy="562.17" r="3.4" fill="url(#gBall)"/>
<circle cx="562.83" cy="562.33" r="3.4" fill="url(#gBall)"/>
<circle cx="572.35" cy="562.44" r="3.4" fill="url(#gBall)"/>
<circle cx="581.88" cy="562.9" r="3.4" fill="url(#gBall)"/>
<circle cx="591.4" cy="562.12" r="3.4" fill="url(#gBall)"/>
<circle cx="600.92" cy="562.98" r="3.4" fill="url(#gBall)"/>
<circle cx="610.45" cy="562.24" r="3.4" fill="url(#gBall)"/>
<circle cx="619.98" cy="562.87" r="3.4" fill="url(#gBall)"/>
<circle cx="629.5" cy="562.54" r="3.4" fill="url(#gBall)"/>
<circle cx="639.02" cy="562.36" r="3.4" fill="url(#gBall)"/>
<circle cx="648.55" cy="562.51" r="3.4" fill="url(#gBall)"/>
<circle cx="658.08" cy="563.01" r="3.4" fill="url(#gBall)"/>
<polyline points="105.62,404.49 115.15,416.56 124.67,418.15 134.2,419.73 143.72,421.64 153.25,422.59 162.77,424.5 172.3,425.77 181.82,426.72 191.35,428.63 200.88,429.27 210.4,430.85 219.93,431.81 229.45,432.44 238.97,433.71 248.5,434.67 258.02,436.25 267.55,437.53 277.07,439.11 286.6,440.39 296.12,441.5 305.65,442.61 315.18,442.61 324.7,443.24 334.23,445.79 343.75,447.06 353.27,448.65 362.8,450.55 372.33,460.08 381.85,477.87 391.38,542.37 400.9,562.38 410.42,561.97 419.95,561.16 429.48,561.26 439,561.93 448.52,561.15 458.05,561.13 467.58,561.5 477.1,561.13 486.62,561.39 496.15,561.83 505.67,561.38 515.2,561.51 524.73,561.98 534.25,561.75 543.77,561.38 553.3,561.81 562.83,561.34 572.35,562.05 581.88,561.82 591.4,561.95 600.92,561.86 610.45,561.42 619.98,561.6 629.5,561.47 639.02,561.46 648.55,561.89 658.08,561.24" fill="none" stroke="#5c5cf2" stroke-width="1.3" stroke-dasharray="5,3"/>
<polygon points="105.62,398.59 107.09,402.46 111.24,402.66 108,405.26 109.09,409.26 105.62,406.99 102.16,409.26 103.25,405.26 100.01,402.66 104.16,402.46" fill="#5c5cf2"/>
<polygon points="115.15,410.66 116.62,414.54 120.76,414.73 117.53,417.33 118.62,421.33 115.15,419.06 111.68,421.33 112.77,417.33 109.54,414.73 113.68,414.54" fill="#5c5cf2"/>
<polygon points="124.67,412.25 126.14,416.12 130.29,416.32 127.05,418.92 128.14,422.92 124.67,420.65 121.21,422.92 122.3,418.92 119.06,416.32 123.21,416.12" fill="#5c5cf2"/>
<polygon points="134.2,413.83 135.67,417.71 139.81,417.91 136.58,420.51 137.67,424.51 134.2,422.23 130.73,424.51 131.82,420.51 128.59,417.91 132.73,417.71" fill="#5c5cf2"/>
<polygon points="143.72,415.74 145.19,419.62 149.34,419.82 146.1,422.41 147.19,426.41 143.72,424.14 140.26,426.41 141.35,422.41 138.11,419.82 142.26,419.62" fill="#5c5cf2"/>
<polygon points="153.25,416.69 154.72,420.57 158.86,420.77 155.63,423.37 156.72,427.37 153.25,425.09 149.78,427.37 150.87,423.37 147.64,420.77 151.78,420.57" fill="#5c5cf2"/>
<polygon points="162.77,418.6 164.24,422.48 168.39,422.68 165.15,425.27 166.24,429.27 162.77,427 159.31,429.27 160.4,425.27 157.16,422.68 161.31,422.48" fill="#5c5cf2"/>
<polygon points="172.3,419.87 173.77,423.75 177.91,423.95 174.68,426.54 175.77,430.54 172.3,428.27 168.83,430.54 169.92,426.54 166.69,423.95 170.83,423.75" fill="#5c5cf2"/>
<polygon points="181.82,420.82 183.29,424.7 187.44,424.9 184.2,427.5 185.29,431.5 181.82,429.22 178.36,431.5 179.45,427.5 176.21,424.9 180.36,424.7" fill="#5c5cf2"/>
<polygon points="191.35,422.73 192.82,426.61 196.96,426.81 193.73,429.4 194.82,433.4 191.35,431.13 187.88,433.4 188.97,429.4 185.74,426.81 189.88,426.61" fill="#5c5cf2"/>
<polygon points="200.88,423.37 202.34,427.24 206.49,427.44 203.25,430.04 204.34,434.04 200.88,431.77 197.41,434.04 198.5,430.04 195.26,427.44 199.41,427.24" fill="#5c5cf2"/>
<polygon points="210.4,424.95 211.87,428.83 216.01,429.03 212.78,431.63 213.87,435.63 210.4,433.35 206.93,435.63 208.02,431.63 204.79,429.03 208.93,428.83" fill="#5c5cf2"/>
<polygon points="219.93,425.91 221.39,429.78 225.54,429.98 222.3,432.58 223.39,436.58 219.93,434.31 216.46,436.58 217.55,432.58 214.31,429.98 218.46,429.78" fill="#5c5cf2"/>
<polygon points="229.45,426.54 230.92,430.42 235.06,430.62 231.83,433.22 232.92,437.22 229.45,434.94 225.98,437.22 227.07,433.22 223.84,430.62 227.98,430.42" fill="#5c5cf2"/>
<polygon points="238.97,427.81 240.44,431.69 244.59,431.89 241.35,434.49 242.44,438.49 238.97,436.21 235.51,438.49 236.6,434.49 233.36,431.89 237.51,431.69" fill="#5c5cf2"/>
<polygon points="248.5,428.77 249.97,432.64 254.11,432.84 250.88,435.44 251.97,439.44 248.5,437.17 245.03,439.44 246.12,435.44 242.89,432.84 247.03,432.64" fill="#5c5cf2"/>
<polygon points="258.02,430.36 259.49,434.23 263.64,434.43 260.4,437.03 261.49,441.03 258.02,438.75 254.56,441.03 255.65,437.03 252.41,434.43 256.56,434.23" fill="#5c5cf2"/>
<polygon points="267.55,431.63 269.02,435.5 273.16,435.7 269.93,438.3 271.02,442.3 267.55,440.03 264.08,442.3 265.17,438.3 261.94,435.7 266.08,435.5" fill="#5c5cf2"/>
<polygon points="277.07,433.21 278.54,437.09 282.69,437.29 279.45,439.89 280.54,443.89 277.07,441.61 273.61,443.89 274.7,439.89 271.46,437.29 275.61,437.09" fill="#5c5cf2"/>
<polygon points="286.6,434.49 288.07,438.36 292.21,438.56 288.98,441.16 290.07,445.16 286.6,442.89 283.13,445.16 284.22,441.16 280.99,438.56 285.13,438.36" fill="#5c5cf2"/>
<polygon points="296.12,435.6 297.59,439.47 301.74,439.67 298.5,442.27 299.59,446.27 296.12,444 292.66,446.27 293.75,442.27 290.51,439.67 294.66,439.47" fill="#5c5cf2"/>
<polygon points="305.65,436.71 307.12,440.59 311.26,440.79 308.03,443.38 309.12,447.38 305.65,445.11 302.18,447.38 303.27,443.38 300.04,440.79 304.18,440.59" fill="#5c5cf2"/>
<polygon points="315.18,436.71 316.64,440.59 320.79,440.79 317.55,443.38 318.64,447.38 315.18,445.11 311.71,447.38 312.8,443.38 309.56,440.79 313.71,440.59" fill="#5c5cf2"/>
<polygon points="324.7,437.34 326.17,441.22 330.31,441.42 327.08,444.02 328.17,448.02 324.7,445.74 321.23,448.02 322.32,444.02 319.09,441.42 323.23,441.22" fill="#5c5cf2"/>
<polygon points="334.23,439.89 335.69,443.76 339.84,443.96 336.6,446.56 337.69,450.56 334.23,448.29 330.76,450.56 331.85,446.56 328.61,443.96 332.76,443.76" fill="#5c5cf2"/>
<polygon points="343.75,441.16 345.22,445.03 349.36,445.23 346.13,447.83 347.22,451.83 343.75,449.56 340.28,451.83 341.37,447.83 338.14,445.23 342.28,445.03" fill="#5c5cf2"/>
<polygon points="353.27,442.75 354.74,446.62 358.89,446.82 355.65,449.42 356.74,453.42 353.27,451.15 349.81,453.42 350.9,449.42 347.66,446.82 351.81,446.62" fill="#5c5cf2"/>
<polygon points="362.8,444.65 364.27,448.53 368.41,448.73 365.18,451.32 366.27,455.32 362.8,453.05 359.33,455.32 360.42,451.32 357.19,448.73 361.33,448.53" fill="#5c5cf2"/>
<polygon points="372.33,454.18 373.79,458.06 377.94,458.26 374.7,460.86 375.79,464.86 372.33,462.58 368.86,464.86 369.95,460.86 366.71,458.26 370.86,458.06" fill="#5c5cf2"/>
<polygon points="381.85,471.97 383.32,475.85 387.46,476.05 384.23,478.65 385.32,482.65 381.85,480.37 378.38,482.65 379.47,478.65 376.24,476.05 380.38,475.85" fill="#5c5cf2"/>
<polygon points="391.38,536.47 392.84,540.34 396.99,540.54 393.75,543.14 394.84,547.14 391.38,544.87 387.91,547.14 389,543.14 385.76,540.54 389.91,540.34" fill="#5c5cf2"/>
<polygon points="400.9,556.48 402.37,560.36 406.51,560.56 403.28,563.15 404.37,567.16 400.9,564.88 397.43,567.16 398.52,563.15 395.29,560.56 399.43,560.36" fill="#5c5cf2"/>
<polygon points="410.42,556.07 411.89,559.95 416.04,560.15 412.8,562.74 413.89,566.75 410.42,564.47 406.96,566.75 408.05,562.74 404.81,560.15 408.96,559.95" fill="#5c5cf2"/>
<polygon points="419.95,555.26 421.42,559.14 425.56,559.34 422.33,561.93 423.42,565.94 419.95,563.66 416.48,565.94 417.57,561.93 414.34,559.34 418.48,559.14" fill="#5c5cf2"/>
<polygon points="429.48,555.36 430.94,559.24 435.09,559.44 431.85,562.04 432.94,566.04 429.48,563.76 426.01,566.04 427.1,562.04 423.86,559.44 428.01,559.24" fill="#5c5cf2"/>
<polygon points="439,556.03 440.47,559.9 444.61,560.1 441.38,562.7 442.47,566.7 439,564.43 435.53,566.7 436.62,562.7 433.39,560.1 437.53,559.9" fill="#5c5cf2"/>
<polygon points="448.52,555.25 449.99,559.13 454.14,559.33 450.9,561.92 451.99,565.92 448.52,563.65 445.06,565.92 446.15,561.92 442.91,559.33 447.06,559.13" fill="#5c5cf2"/>
<polygon points="458.05,555.23 459.52,559.1 463.66,559.3 460.43,561.9 461.52,565.9 458.05,563.63 454.58,565.9 455.67,561.9 452.44,559.3 456.58,559.1" fill="#5c5cf2"/>
<polygon points="467.58,555.6 469.04,559.48 473.19,559.68 469.95,562.28 471.04,566.28 467.58,564 464.11,566.28 465.2,562.28 461.96,559.68 466.11,559.48" fill="#5c5cf2"/>
<polygon points="477.1,555.23 478.57,559.11 482.71,559.31 479.48,561.9 480.57,565.9 477.1,563.63 473.63,565.9 474.72,561.9 471.49,559.31 475.63,559.11" fill="#5c5cf2"/>
<polygon points="486.62,555.49 488.09,559.37 492.24,559.57 489,562.17 490.09,566.17 486.62,563.89 483.16,566.17 484.25,562.17 481.01,559.57 485.16,559.37" fill="#5c5cf2"/>
<polygon points="496.15,555.93 497.62,559.81 501.76,560.01 498.53,562.61 499.62,566.61 496.15,564.33 492.68,566.61 493.77,562.61 490.54,560.01 494.68,559.81" fill="#5c5cf2"/>
<polygon points="505.67,555.48 507.14,559.36 511.29,559.56 508.05,562.15 509.14,566.15 505.67,563.88 502.21,566.15 503.3,562.15 500.06,559.56 504.21,559.36" fill="#5c5cf2"/>
<polygon points="515.2,555.61 516.67,559.49 520.81,559.68 517.58,562.28 518.67,566.28 515.2,564.01 511.73,566.28 512.82,562.28 509.59,559.68 513.73,559.49" fill="#5c5cf2"/>
<polygon points="524.73,556.08 526.19,559.96 530.34,560.16 527.1,562.75 528.19,566.75 524.73,564.48 521.26,566.75 522.35,562.75 519.11,560.16 523.26,559.96" fill="#5c5cf2"/>
<polygon points="534.25,555.85 535.72,559.73 539.86,559.93 536.63,562.53 537.72,566.53 534.25,564.25 530.78,566.53 531.87,562.53 528.64,559.93 532.78,559.73" fill="#5c5cf2"/>
<polygon points="543.77,555.48 545.24,559.35 549.39,559.55 546.15,562.15 547.24,566.15 543.77,563.88 540.31,566.15 541.4,562.15 538.16,559.55 542.31,559.35" fill="#5c5cf2"/>
<polygon points="553.3,555.91 554.77,559.79 558.91,559.98 555.68,562.58 556.77,566.58 553.3,564.31 549.83,566.58 550.92,562.58 547.69,559.98 551.83,559.79" fill="#5c5cf2"/>
<polygon points="562.83,555.44 564.29,559.32 568.44,559.52 565.2,562.12 566.29,566.12 562.83,563.84 559.36,566.12 560.45,562.12 557.21,559.52 561.36,559.32" fill="#5c5cf2"/>
<polygon points="572.35,556.15 573.82,560.03 577.96,560.23 574.73,562.83 575.82,566.83 572.35,564.55 568.88,566.83 569.97,562.83 566.74,560.23 570.88,560.03" fill="#5c5cf2"/>
<polygon points="581.88,555.92 583.34,559.79 587.49,559.99 584.25,562.59 585.34,566.59 581.88,564.32 578.41,566.59 579.5,562.59 576.26,559.99 580.41,559.79" fill="#5c5cf2"/>
<polygon points="591.4,556.05 592.87,559.93 597.01,560.13 593.78,562.72 594.87,566.72 591.4,564.45 587.93,566.72 589.02,562.72 585.79,560.13 589.93,559.93" fill="#5c5cf2"/>
<polygon points="600.92,555.96 602.39,559.83 606.54,560.03 603.3,562.63 604.39,566.63 600.92,564.36 597.46,566.63 598.55,562.63 595.31,560.03 599.46,559.83" fill="#5c5cf2"/>
<polygon points="610.45,555.52 611.92,559.39 616.06,559.59 612.83,562.19 613.92,566.19 610.45,563.92 606.98,566.19 608.07,562.19 604.84,559.59 608.98,559.39" fill="#5c5cf2"/>
<polygon points="619.98,555.7 621.44,559.58 625.59,559.78 622.35,562.37 623.44,566.37 619.98,564.1 616.51,566.37 617.6,562.37 614.36,559.78 618.51,559.58" fill="#5c5cf2"/>
<polygon points="629.5,555.57 630.97,559.45 635.11,559.65 631.88,562.25 632.97,566.25 629.5,563.97 626.03,566.25 627.12,562.25 623.89,559.65 628.03,559.45" fill="#5c5cf2"/>
<polygon points="639.02,555.56 640.49,559.43 644.64,559.63 641.4,562.23 642.49,566.23 639.02,563.96 635.56,566.23 636.65,562.23 633.41,559.63 637.56,559.43" fill="#5c5cf2"/>
<polygon points="648.55,555.99 650.02,559.87 654.16,560.07 650.93,562.66 652.02,566.66 648.55,564.39 645.08,566.66 646.17,562.66 642.94,560.07 647.08,559.87" fill="#5c5cf2"/>
<polygon points="658.08,555.34 659.54,559.22 663.69,559.42 660.45,562.01 661.54,566.02 658.08,563.74 654.61,566.02 655.7,562.01 652.46,559.42 656.61,559.22" fill="#5c5cf2"/>
<polyline points="105.62,404.49 115.15,415.29 124.67,417.19 134.2,418.78 143.72,420.37 153.25,421.01 162.77,422.28 172.3,422.91 181.82,423.86 191.35,425.14 200.88,425.14 210.4,426.72 219.93,427.99 229.45,428.63 238.97,429.9 248.5,430.85 258.02,433.08 267.55,435.3 277.07,436.89 286.6,437.53 296.12,437.21 305.65,438.8 315.18,440.7 324.7,441.02 334.23,443.24 343.75,443.88 353.27,444.83 362.8,446.1 372.33,453.73 381.85,466.12 391.38,527.43 400.9,562.38 410.42,563.38 419.95,562.56 429.48,562.78 439,563.26 448.52,562.99 458.05,562.82 467.58,563.05 477.1,562.92 486.62,562.78 496.15,563.08 505.67,562.6 515.2,563.21 524.73,563.14 534.25,563.36 543.77,563.21 553.3,562.79 562.83,563.29 572.35,563.35 581.88,563.14 591.4,562.73 600.92,563.22 610.45,562.95 619.98,562.78 629.5,563.29 639.02,563.45 648.55,563.23 658.08,562.95" fill="none" stroke="#f07474" stroke-width="1.3" stroke-dasharray="5,3"/>
<polygon points="105.62,400.02 109.8,407.22 101.45,407.22" fill="#f07474"/>
<polygon points="115.15,410.82 119.33,418.02 110.97,418.02" fill="#f07474"/>
<polygon points="124.67,412.73 128.85,419.93 120.5,419.93" fill="#f07474"/>
<polygon points="134.2,414.32 138.38,421.52 130.02,421.52" fill="#f07474"/>
<polygon points="143.72,415.91 147.9,423.11 139.55,423.11" fill="#f07474"/>
<polygon points="153.25,416.54 157.43,423.74 149.07,423.74" fill="#f07474"/>
<polygon points="162.77,417.81 166.95,425.01 158.6,425.01" fill="#f07474"/>
<polygon points="172.3,418.45 176.48,425.65 168.12,425.65" fill="#f07474"/>
<polygon points="181.82,419.4 186,426.6 177.65,426.6" fill="#f07474"/>
<polygon points="191.35,420.67 195.53,427.87 187.17,427.87" fill="#f07474"/>
<polygon points="200.88,420.67 205.05,427.87 196.7,427.87" fill="#f07474"/>
<polygon points="210.4,422.26 214.58,429.46 206.22,429.46" fill="#f07474"/>
<polygon points="219.93,423.53 224.1,430.73 215.75,430.73" fill="#f07474"/>
<polygon points="229.45,424.17 233.63,431.37 225.27,431.37" fill="#f07474"/>
<polygon points="238.97,425.44 243.15,432.64 234.8,432.64" fill="#f07474"/>
<polygon points="248.5,426.39 252.68,433.59 244.32,433.59" fill="#f07474"/>
<polygon points="258.02,428.61 262.2,435.81 253.85,435.81" fill="#f07474"/>
<polygon points="267.55,430.84 271.73,438.04 263.37,438.04" fill="#f07474"/>
<polygon points="277.07,432.43 281.25,439.63 272.9,439.63" fill="#f07474"/>
<polygon points="286.6,433.06 290.78,440.26 282.42,440.26" fill="#f07474"/>
<polygon points="296.12,432.74 300.3,439.94 291.95,439.94" fill="#f07474"/>
<polygon points="305.65,434.33 309.83,441.53 301.47,441.53" fill="#f07474"/>
<polygon points="315.18,436.24 319.35,443.44 311,443.44" fill="#f07474"/>
<polygon points="324.7,436.56 328.88,443.76 320.52,443.76" fill="#f07474"/>
<polygon points="334.23,438.78 338.4,445.98 330.05,445.98" fill="#f07474"/>
<polygon points="343.75,439.42 347.93,446.62 339.57,446.62" fill="#f07474"/>
<polygon points="353.27,440.37 357.45,447.57 349.1,447.57" fill="#f07474"/>
<polygon points="362.8,441.64 366.98,448.84 358.62,448.84" fill="#f07474"/>
<polygon points="372.33,449.26 376.5,456.46 368.15,456.46" fill="#f07474"/>
<polygon points="381.85,461.65 386.03,468.85 377.67,468.85" fill="#f07474"/>
<polygon points="391.38,522.97 395.55,530.17 387.2,530.17" fill="#f07474"/>
<polygon points="400.9,557.92 405.08,565.12 396.72,565.12" fill="#f07474"/>
<polygon points="410.42,558.92 414.6,566.12 406.25,566.12" fill="#f07474"/>
<polygon points="419.95,558.09 424.13,565.29 415.77,565.29" fill="#f07474"/>
<polygon points="429.48,558.32 433.65,565.52 425.3,565.52" fill="#f07474"/>
<polygon points="439,558.8 443.18,566 434.82,566" fill="#f07474"/>
<polygon points="448.52,558.52 452.7,565.72 444.35,565.72" fill="#f07474"/>
<polygon points="458.05,558.35 462.23,565.55 453.87,565.55" fill="#f07474"/>
<polygon points="467.58,558.59 471.75,565.79 463.4,565.79" fill="#f07474"/>
<polygon points="477.1,558.46 481.28,565.66 472.92,565.66" fill="#f07474"/>
<polygon points="486.62,558.32 490.8,565.52 482.45,565.52" fill="#f07474"/>
<polygon points="496.15,558.62 500.33,565.82 491.97,565.82" fill="#f07474"/>
<polygon points="505.67,558.13 509.85,565.33 501.5,565.33" fill="#f07474"/>
<polygon points="515.2,558.75 519.38,565.95 511.02,565.95" fill="#f07474"/>
<polygon points="524.73,558.68 528.9,565.88 520.55,565.88" fill="#f07474"/>
<polygon points="534.25,558.9 538.43,566.1 530.07,566.1" fill="#f07474"/>
<polygon points="543.77,558.74 547.95,565.94 539.6,565.94" fill="#f07474"/>
<polygon points="553.3,558.33 557.48,565.53 549.12,565.53" fill="#f07474"/>
<polygon points="562.83,558.83 567,566.03 558.65,566.03" fill="#f07474"/>
<polygon points="572.35,558.88 576.53,566.08 568.17,566.08" fill="#f07474"/>
<polygon points="581.88,558.67 586.05,565.87 577.7,565.87" fill="#f07474"/>
<polygon points="591.4,558.27 595.58,565.47 587.22,565.47" fill="#f07474"/>
<polygon points="600.92,558.75 605.1,565.95 596.75,565.95" fill="#f07474"/>
<polygon points="610.45,558.49 614.63,565.69 606.27,565.69" fill="#f07474"/>
<polygon points="619.98,558.32 624.15,565.52 615.8,565.52" fill="#f07474"/>
<polygon points="629.5,558.83 633.68,566.03 625.32,566.03" fill="#f07474"/>
<polygon points="639.02,558.99 643.2,566.19 634.85,566.19" fill="#f07474"/>
<polygon points="648.55,558.77 652.73,565.97 644.37,565.97" fill="#f07474"/>
<polygon points="658.08,558.48 662.25,565.68 653.9,565.68" fill="#f07474"/>
<polyline points="105.62,404.49 115.15,420.05 124.67,422.28 134.2,423.55 143.72,425.45 153.25,427.68 162.77,429.58 172.3,430.54 181.82,431.49 191.35,433.4 200.88,434.03 210.4,434.98 219.93,437.53 229.45,437.84 238.97,438.16 248.5,439.75 258.02,440.39 267.55,441.02 277.07,441.34 286.6,443.24 296.12,444.52 305.65,446.74 315.18,446.74 324.7,448.33 334.23,448.96 343.75,450.23 353.27,451.5 362.8,453.09 372.33,461.67 381.85,471.2 391.38,531.57 400.9,562.38 410.42,562.81 419.95,563.16 429.48,563.11 439,562.44 448.52,562.45 458.05,562.67 467.58,562.52 477.1,562.4 486.62,563.14 496.15,562.79 505.67,562.77 515.2,562.76 524.73,562.52 534.25,562.42 543.77,562.76 553.3,562.67 562.83,562.25 572.35,562.99 581.88,562.82 591.4,563.13 600.92,563.16 610.45,562.56 619.98,562.99 629.5,563.14 639.02,562.81 648.55,562.33 658.08,562.99" fill="none" stroke="#c6dc9a" stroke-width="1.3" stroke-dasharray="5,3"/>
<rect x="102.92" y="401.79" width="5.4" height="5.4" fill="#c6dc9a"/>
<rect x="112.45" y="417.35" width="5.4" height="5.4" fill="#c6dc9a"/>
<rect x="121.97" y="419.58" width="5.4" height="5.4" fill="#c6dc9a"/>
<rect x="131.5" y="420.85" width="5.4" height="5.4" fill="#c6dc9a"/>
<rect x="141.03" y="422.75" width="5.4" height="5.4" fill="#c6dc9a"/>
<rect x="150.55" y="424.98" width="5.4" height="5.4" fill="#c6dc9a"/>
<rect x="160.07" y="426.88" width="5.4" height="5.4" fill="#c6dc9a"/>
<rect x="169.6" y="427.84" width="5.4" height="5.4" fill="#c6dc9a"/>
<rect x="179.12" y="428.79" width="5.4" height="5.4" fill="#c6dc9a"/>
<rect x="188.65" y="430.7" width="5.4" height="5.4" fill="#c6dc9a"/>
<rect x="198.18" y="431.33" width="5.4" height="5.4" fill="#c6dc9a"/>
<rect x="207.7" y="432.28" width="5.4" height="5.4" fill="#c6dc9a"/>
<rect x="217.23" y="434.83" width="5.4" height="5.4" fill="#c6dc9a"/>
<rect x="226.75" y="435.14" width="5.4" height="5.4" fill="#c6dc9a"/>
<rect x="236.28" y="435.46" width="5.4" height="5.4" fill="#c6dc9a"/>
<rect x="245.8" y="437.05" width="5.4" height="5.4" fill="#c6dc9a"/>
<rect x="255.32" y="437.69" width="5.4" height="5.4" fill="#c6dc9a"/>
<rect x="264.85" y="438.32" width="5.4" height="5.4" fill="#c6dc9a"/>
<rect x="274.38" y="438.64" width="5.4" height="5.4" fill="#c6dc9a"/>
<rect x="283.9" y="440.54" width="5.4" height="5.4" fill="#c6dc9a"/>
<rect x="293.43" y="441.82" width="5.4" height="5.4" fill="#c6dc9a"/>
<rect x="302.95" y="444.04" width="5.4" height="5.4" fill="#c6dc9a"/>
<rect x="312.48" y="444.04" width="5.4" height="5.4" fill="#c6dc9a"/>
<rect x="322" y="445.63" width="5.4" height="5.4" fill="#c6dc9a"/>
<rect x="331.53" y="446.26" width="5.4" height="5.4" fill="#c6dc9a"/>
<rect x="341.05" y="447.53" width="5.4" height="5.4" fill="#c6dc9a"/>
<rect x="350.57" y="448.8" width="5.4" height="5.4" fill="#c6dc9a"/>
<rect x="360.1" y="450.39" width="5.4" height="5.4" fill="#c6dc9a"/>
<rect x="369.63" y="458.97" width="5.4" height="5.4" fill="#c6dc9a"/>
<rect x="379.15" y="468.5" width="5.4" height="5.4" fill="#c6dc9a"/>
<rect x="388.68" y="528.87" width="5.4" height="5.4" fill="#c6dc9a"/>
<rect x="398.2" y="559.68" width="5.4" height="5.4" fill="#c6dc9a"/>
<rect x="407.72" y="560.11" width="5.4" height="5.4" fill="#c6dc9a"/>
<rect x="417.25" y="560.46" width="5.4" height="5.4" fill="#c6dc9a"/>
<rect x="426.78" y="560.41" width="5.4" height="5.4" fill="#c6dc9a"/>
<rect x="436.3" y="559.74" width="5.4" height="5.4" fill="#c6dc9a"/>
<rect x="445.82" y="559.75" width="5.4" height="5.4" fill="#c6dc9a"/>
<rect x="455.35" y="559.97" width="5.4" height="5.4" fill="#c6dc9a"/>
<rect x="464.88" y="559.82" width="5.4" height="5.4" fill="#c6dc9a"/>
<rect x="474.4" y="559.7" width="5.4" height="5.4" fill="#c6dc9a"/>
<rect x="483.93" y="560.44" width="5.4" height="5.4" fill="#c6dc9a"/>
<rect x="493.45" y="560.09" width="5.4" height="5.4" fill="#c6dc9a"/>
<rect x="502.97" y="560.07" width="5.4" height="5.4" fill="#c6dc9a"/>
<rect x="512.5" y="560.06" width="5.4" height="5.4" fill="#c6dc9a"/>
<rect x="522.02" y="559.82" width="5.4" height="5.4" fill="#c6dc9a"/>
<rect x="531.55" y="559.72" width="5.4" height="5.4" fill="#c6dc9a"/>
<rect x="541.07" y="560.06" width="5.4" height="5.4" fill="#c6dc9a"/>
<rect x="550.6" y="559.97" width="5.4" height="5.4" fill="#c6dc9a"/>
<rect x="560.12" y="559.55" width="5.4" height="5.4" fill="#c6dc9a"/>
<rect x="569.65" y="560.29" width="5.4" height="5.4" fill="#c6dc9a"/>
<rect x="579.17" y="560.12" width="5.4" height="5.4" fill="#c6dc9a"/>
<rect x="588.7" y="560.43" width="5.4" height="5.4" fill="#c6dc9a"/>
<rect x="598.22" y="560.46" width="5.4" height="5.4" fill="#c6dc9a"/>
<rect x="607.75" y="559.86" width="5.4" height="5.4" fill="#c6dc9a"/>
<rect x="617.27" y="560.29" width="5.4" height="5.4" fill="#c6dc9a"/>
<rect x="626.8" y="560.44" width="5.4" height="5.4" fill="#c6dc9a"/>
<rect x="636.32" y="560.11" width="5.4" height="5.4" fill="#c6dc9a"/>
<rect x="645.85" y="559.63" width="5.4" height="5.4" fill="#c6dc9a"/>
<rect x="655.38" y="560.29" width="5.4" height="5.4" fill="#c6dc9a"/>
<polyline points="105.62,404.49 115.15,415.92 124.67,417.83 134.2,419.42 143.72,421.96 153.25,421.96 162.77,424.82 172.3,425.14 181.82,425.77 191.35,429.27 200.88,429.27 210.4,431.17 219.93,431.49 229.45,431.49 238.97,432.76 248.5,434.03 258.02,434.67 267.55,435.62 277.07,436.25 286.6,437.84 296.12,439.75 305.65,440.39 315.18,442.29 324.7,443.88 334.23,446.42 343.75,447.37 353.27,448.65 362.8,449.92 372.33,459.45 381.85,528.07 391.38,551.26 400.9,562.38 410.42,563.16 419.95,563.72 429.48,563.65 439,563.23 448.52,563.5 458.05,562.94 467.58,563.06 477.1,562.99 486.62,563.42 496.15,563.02 505.67,563.27 515.2,563.02 524.73,563.51 534.25,563.29 543.77,563.39 553.3,563.42 562.83,563.44 572.35,563.42 581.88,563.67 591.4,563.68 600.92,563.52 610.45,563.15 619.98,563.18 629.5,563.09 639.02,563.12 648.55,563.03 658.08,563.71" fill="none" stroke="#d848f0" stroke-width="1.3" stroke-dasharray="5,3"/>
<polygon points="105.62,400.59 109.53,404.49 105.62,408.38 101.72,404.49" fill="#b070ec"/>
<polygon points="115.15,412.02 119.05,415.92 115.15,419.82 111.25,415.92" fill="#b070ec"/>
<polygon points="124.67,413.93 128.57,417.83 124.67,421.73 120.77,417.83" fill="#b070ec"/>
<polygon points="134.2,415.52 138.1,419.42 134.2,423.32 130.3,419.42" fill="#b070ec"/>
<polygon points="143.72,418.06 147.62,421.96 143.72,425.86 139.82,421.96" fill="#b070ec"/>
<polygon points="153.25,418.06 157.15,421.96 153.25,425.86 149.35,421.96" fill="#b070ec"/>
<polygon points="162.77,420.92 166.67,424.82 162.77,428.72 158.87,424.82" fill="#b070ec"/>
<polygon points="172.3,421.24 176.2,425.14 172.3,429.04 168.4,425.14" fill="#b070ec"/>
<polygon points="181.82,421.87 185.72,425.77 181.82,429.67 177.92,425.77" fill="#b070ec"/>
<polygon points="191.35,425.37 195.25,429.27 191.35,433.17 187.45,429.27" fill="#b070ec"/>
<polygon points="200.88,425.37 204.78,429.27 200.88,433.17 196.97,429.27" fill="#b070ec"/>
<polygon points="210.4,427.27 214.3,431.17 210.4,435.07 206.5,431.17" fill="#b070ec"/>
<polygon points="219.93,427.59 223.83,431.49 219.93,435.39 216.03,431.49" fill="#b070ec"/>
<polygon points="229.45,427.59 233.35,431.49 229.45,435.39 225.55,431.49" fill="#b070ec"/>
<polygon points="238.97,428.86 242.88,432.76 238.97,436.66 235.07,432.76" fill="#b070ec"/>
<polygon points="248.5,430.13 252.4,434.03 248.5,437.93 244.6,434.03" fill="#b070ec"/>
<polygon points="258.02,430.77 261.92,434.67 258.02,438.57 254.12,434.67" fill="#b070ec"/>
<polygon points="267.55,431.72 271.45,435.62 267.55,439.52 263.65,435.62" fill="#b070ec"/>
<polygon points="277.07,432.36 280.97,436.25 277.07,440.15 273.18,436.25" fill="#b070ec"/>
<polygon points="286.6,433.94 290.5,437.84 286.6,441.74 282.7,437.84" fill="#b070ec"/>
<polygon points="296.12,435.85 300.02,439.75 296.12,443.65 292.23,439.75" fill="#b070ec"/>
<polygon points="305.65,436.49 309.55,440.39 305.65,444.29 301.75,440.39" fill="#b070ec"/>
<polygon points="315.18,438.39 319.07,442.29 315.18,446.19 311.28,442.29" fill="#b070ec"/>
<polygon points="324.7,439.98 328.6,443.88 324.7,447.78 320.8,443.88" fill="#b070ec"/>
<polygon points="334.23,442.52 338.12,446.42 334.23,450.32 330.33,446.42" fill="#b070ec"/>
<polygon points="343.75,443.47 347.65,447.37 343.75,451.27 339.85,447.37" fill="#b070ec"/>
<polygon points="353.27,444.75 357.17,448.65 353.27,452.55 349.38,448.65" fill="#b070ec"/>
<polygon points="362.8,446.02 366.7,449.92 362.8,453.82 358.9,449.92" fill="#b070ec"/>
<polygon points="372.33,455.55 376.23,459.45 372.33,463.35 368.43,459.45" fill="#b070ec"/>
<polygon points="381.85,524.17 385.75,528.07 381.85,531.97 377.95,528.07" fill="#b070ec"/>
<polygon points="391.38,547.36 395.27,551.26 391.38,555.16 387.48,551.26" fill="#b070ec"/>
<polygon points="400.9,558.48 404.8,562.38 400.9,566.28 397,562.38" fill="#b070ec"/>
<polygon points="410.42,559.26 414.32,563.16 410.42,567.06 406.52,563.16" fill="#b070ec"/>
<polygon points="419.95,559.82 423.85,563.72 419.95,567.62 416.05,563.72" fill="#b070ec"/>
<polygon points="429.48,559.75 433.38,563.65 429.48,567.55 425.58,563.65" fill="#b070ec"/>
<polygon points="439,559.33 442.9,563.23 439,567.13 435.1,563.23" fill="#b070ec"/>
<polygon points="448.52,559.6 452.42,563.5 448.52,567.4 444.62,563.5" fill="#b070ec"/>
<polygon points="458.05,559.04 461.95,562.94 458.05,566.84 454.15,562.94" fill="#b070ec"/>
<polygon points="467.58,559.16 471.48,563.06 467.58,566.96 463.68,563.06" fill="#b070ec"/>
<polygon points="477.1,559.09 481,562.99 477.1,566.89 473.2,562.99" fill="#b070ec"/>
<polygon points="486.62,559.52 490.52,563.42 486.62,567.32 482.73,563.42" fill="#b070ec"/>
<polygon points="496.15,559.12 500.05,563.02 496.15,566.92 492.25,563.02" fill="#b070ec"/>
<polygon points="505.67,559.37 509.57,563.27 505.67,567.17 501.77,563.27" fill="#b070ec"/>
<polygon points="515.2,559.12 519.1,563.02 515.2,566.92 511.3,563.02" fill="#b070ec"/>
<polygon points="524.73,559.61 528.62,563.51 524.73,567.41 520.83,563.51" fill="#b070ec"/>
<polygon points="534.25,559.39 538.15,563.29 534.25,567.19 530.35,563.29" fill="#b070ec"/>
<polygon points="543.77,559.49 547.67,563.39 543.77,567.29 539.88,563.39" fill="#b070ec"/>
<polygon points="553.3,559.52 557.2,563.42 553.3,567.32 549.4,563.42" fill="#b070ec"/>
<polygon points="562.83,559.54 566.73,563.44 562.83,567.34 558.93,563.44" fill="#b070ec"/>
<polygon points="572.35,559.52 576.25,563.42 572.35,567.32 568.45,563.42" fill="#b070ec"/>
<polygon points="581.88,559.77 585.77,563.67 581.88,567.57 577.98,563.67" fill="#b070ec"/>
<polygon points="591.4,559.78 595.3,563.68 591.4,567.58 587.5,563.68" fill="#b070ec"/>
<polygon points="600.92,559.62 604.82,563.52 600.92,567.42 597.02,563.52" fill="#b070ec"/>
<polygon points="610.45,559.25 614.35,563.15 610.45,567.05 606.55,563.15" fill="#b070ec"/>
<polygon points="619.98,559.28 623.88,563.18 619.98,567.08 616.08,563.18" fill="#b070ec"/>
<polygon points="629.5,559.19 633.4,563.09 629.5,566.99 625.6,563.09" fill="#b070ec"/>
<polygon points="639.02,559.22 642.92,563.12 639.02,567.02 635.12,563.12" fill="#b070ec"/>
<polygon points="648.55,559.13 652.45,563.03 648.55,566.93 644.65,563.03" fill="#b070ec"/>
<polygon points="658.08,559.81 661.98,563.71 658.08,567.61 654.18,563.71" fill="#b070ec"/>
<polyline points="105.62,404.49 115.15,407.34 124.67,407.34 134.2,408.3 143.72,408.93 153.25,409.89 162.77,410.52 172.3,411.16 181.82,411.79 191.35,412.43 200.88,413.06 210.4,414.33 219.93,414.97 229.45,414.97 238.97,415.92 248.5,416.88 258.02,417.19 267.55,417.51 277.07,417.51 286.6,417.19 296.12,418.3 305.65,417.07 315.18,417.83 324.7,418.78 334.23,419.42 343.75,420.37 353.27,422.28 362.8,423.23 372.33,425.45 381.85,435.62 391.38,516.32 400.9,562.38 410.42,562.74 419.95,562.5 429.48,562.81 439,562.99 448.52,562.65 458.05,562.5 467.58,562.76 477.1,562.9 486.62,562.86 496.15,562.93 505.67,562.71 515.2,562.37 524.73,562.3 534.25,562.3 543.77,563.11 553.3,562.7 562.83,562.5 572.35,562.82 581.88,562.89 591.4,562.99 600.92,563.16 610.45,562.26 619.98,562.46 629.5,562.44 639.02,562.44 648.55,562.35 658.08,563.1" fill="none" stroke="#c2c2c2" stroke-width="1.3" stroke-dasharray="5,3"/>
<circle cx="105.62" cy="404.49" r="3.1" fill="#c2c2c2"/>
<circle cx="115.15" cy="407.34" r="3.1" fill="#c2c2c2"/>
<circle cx="124.67" cy="407.34" r="3.1" fill="#c2c2c2"/>
<circle cx="134.2" cy="408.3" r="3.1" fill="#c2c2c2"/>
<circle cx="143.72" cy="408.93" r="3.1" fill="#c2c2c2"/>
<circle cx="153.25" cy="409.89" r="3.1" fill="#c2c2c2"/>
<circle cx="162.77" cy="410.52" r="3.1" fill="#c2c2c2"/>
<circle cx="172.3" cy="411.16" r="3.1" fill="#c2c2c2"/>
<circle cx="181.82" cy="411.79" r="3.1" fill="#c2c2c2"/>
<circle cx="191.35" cy="412.43" r="3.1" fill="#c2c2c2"/>
<circle cx="200.88" cy="413.06" r="3.1" fill="#c2c2c2"/>
<circle cx="210.4" cy="414.33" r="3.1" fill="#c2c2c2"/>
<circle cx="219.93" cy="414.97" r="3.1" fill="#c2c2c2"/>
<circle cx="229.45" cy="414.97" r="3.1" fill="#c2c2c2"/>
<circle cx="238.97" cy="415.92" r="3.1" fill="#c2c2c2"/>
<circle cx="248.5" cy="416.88" r="3.1" fill="#c2c2c2"/>
<circle cx="258.02" cy="417.19" r="3.1" fill="#c2c2c2"/>
<circle cx="267.55" cy="417.51" r="3.1" fill="#c2c2c2"/>
<circle cx="277.07" cy="417.51" r="3.1" fill="#c2c2c2"/>
<circle cx="286.6" cy="417.19" r="3.1" fill="#c2c2c2"/>
<circle cx="296.12" cy="418.3" r="3.1" fill="#c2c2c2"/>
<circle cx="305.65" cy="417.07" r="3.1" fill="#c2c2c2"/>
<circle cx="315.18" cy="417.83" r="3.1" fill="#c2c2c2"/>
<circle cx="324.7" cy="418.78" r="3.1" fill="#c2c2c2"/>
<circle cx="334.23" cy="419.42" r="3.1" fill="#c2c2c2"/>
<circle cx="343.75" cy="420.37" r="3.1" fill="#c2c2c2"/>
<circle cx="353.27" cy="422.28" r="3.1" fill="#c2c2c2"/>
<circle cx="362.8" cy="423.23" r="3.1" fill="#c2c2c2"/>
<circle cx="372.33" cy="425.45" r="3.1" fill="#c2c2c2"/>
<circle cx="381.85" cy="435.62" r="3.1" fill="#c2c2c2"/>
<circle cx="391.38" cy="516.32" r="3.1" fill="#c2c2c2"/>
<circle cx="400.9" cy="562.38" r="3.1" fill="#c2c2c2"/>
<circle cx="410.42" cy="562.74" r="3.1" fill="#c2c2c2"/>
<circle cx="419.95" cy="562.5" r="3.1" fill="#c2c2c2"/>
<circle cx="429.48" cy="562.81" r="3.1" fill="#c2c2c2"/>
<circle cx="439" cy="562.99" r="3.1" fill="#c2c2c2"/>
<circle cx="448.52" cy="562.65" r="3.1" fill="#c2c2c2"/>
<circle cx="458.05" cy="562.5" r="3.1" fill="#c2c2c2"/>
<circle cx="467.58" cy="562.76" r="3.1" fill="#c2c2c2"/>
<circle cx="477.1" cy="562.9" r="3.1" fill="#c2c2c2"/>
<circle cx="486.62" cy="562.86" r="3.1" fill="#c2c2c2"/>
<circle cx="496.15" cy="562.93" r="3.1" fill="#c2c2c2"/>
<circle cx="505.67" cy="562.71" r="3.1" fill="#c2c2c2"/>
<circle cx="515.2" cy="562.37" r="3.1" fill="#c2c2c2"/>
<circle cx="524.73" cy="562.3" r="3.1" fill="#c2c2c2"/>
<circle cx="534.25" cy="562.3" r="3.1" fill="#c2c2c2"/>
<circle cx="543.77" cy="563.11" r="3.1" fill="#c2c2c2"/>
<circle cx="553.3" cy="562.7" r="3.1" fill="#c2c2c2"/>
<circle cx="562.83" cy="562.5" r="3.1" fill="#c2c2c2"/>
<circle cx="572.35" cy="562.82" r="3.1" fill="#c2c2c2"/>
<circle cx="581.88" cy="562.89" r="3.1" fill="#c2c2c2"/>
<circle cx="591.4" cy="562.99" r="3.1" fill="#c2c2c2"/>
<circle cx="600.92" cy="563.16" r="3.1" fill="#c2c2c2"/>
<circle cx="610.45" cy="562.26" r="3.1" fill="#c2c2c2"/>
<circle cx="619.98" cy="562.46" r="3.1" fill="#c2c2c2"/>
<circle cx="629.5" cy="562.44" r="3.1" fill="#c2c2c2"/>
<circle cx="639.02" cy="562.44" r="3.1" fill="#c2c2c2"/>
<circle cx="648.55" cy="562.35" r="3.1" fill="#c2c2c2"/>
<circle cx="658.08" cy="563.1" r="3.1" fill="#c2c2c2"/>
<polyline points="105.62,404.49 115.15,410.84 124.67,411.47 134.2,412.43 143.72,412.75 153.25,414.65 162.77,416.24 172.3,416.88 181.82,417.19 191.35,418.46 200.88,419.1 210.4,420.37 219.93,420.69 229.45,422.28 238.97,422.59 248.5,423.55 258.02,424.82 267.55,426.09 277.07,427.04 286.6,426.88 296.12,426.88 305.65,427.36 315.18,429.58 324.7,428.95 334.23,430.85 343.75,430.22 353.27,430.54 362.8,432.76 372.33,438.16 381.85,501.38 391.38,547.45 400.9,562.38 410.42,562.21 419.95,562.76 429.48,562.36 439,562.94 448.52,563.01 458.05,562.99 467.58,562.4 477.1,562.18 486.62,562.62 496.15,562.21 505.67,562.55 515.2,562.45 524.73,562.34 534.25,562.62 543.77,562.86 553.3,562.39 562.83,562.07 572.35,562.99 581.88,562.99 591.4,562.34 600.92,562.13 610.45,562.5 619.98,563.01 629.5,562.6 639.02,562.21 648.55,562.8 658.08,562.44" fill="none" stroke="#94d4b4" stroke-width="1.3" stroke-dasharray="5,3"/>
<polygon points="105.62,400.69 109.24,403.31 107.86,407.56 103.39,407.56 102.01,403.31" fill="#94d4b4"/>
<polygon points="115.15,407.04 118.76,409.66 117.38,413.91 112.92,413.91 111.54,409.66" fill="#94d4b4"/>
<polygon points="124.67,407.67 128.29,410.3 126.91,414.55 122.44,414.55 121.06,410.3" fill="#94d4b4"/>
<polygon points="134.2,408.63 137.81,411.25 136.43,415.5 131.97,415.5 130.59,411.25" fill="#94d4b4"/>
<polygon points="143.72,408.95 147.34,411.57 145.96,415.82 141.49,415.82 140.11,411.57" fill="#94d4b4"/>
<polygon points="153.25,410.85 156.86,413.48 155.48,417.73 151.02,417.73 149.64,413.48" fill="#94d4b4"/>
<polygon points="162.77,412.44 166.39,415.07 165.01,419.31 160.54,419.31 159.16,415.07" fill="#94d4b4"/>
<polygon points="172.3,413.08 175.91,415.7 174.53,419.95 170.07,419.95 168.69,415.7" fill="#94d4b4"/>
<polygon points="181.82,413.39 185.44,416.02 184.06,420.27 179.59,420.27 178.21,416.02" fill="#94d4b4"/>
<polygon points="191.35,414.66 194.96,417.29 193.58,421.54 189.12,421.54 187.74,417.29" fill="#94d4b4"/>
<polygon points="200.88,415.3 204.49,417.92 203.11,422.17 198.64,422.17 197.26,417.92" fill="#94d4b4"/>
<polygon points="210.4,416.57 214.01,419.2 212.63,423.44 208.17,423.44 206.79,419.2" fill="#94d4b4"/>
<polygon points="219.93,416.89 223.54,419.51 222.16,423.76 217.69,423.76 216.31,419.51" fill="#94d4b4"/>
<polygon points="229.45,418.48 233.06,421.1 231.68,425.35 227.22,425.35 225.84,421.1" fill="#94d4b4"/>
<polygon points="238.97,418.79 242.59,421.42 241.21,425.67 236.74,425.67 235.36,421.42" fill="#94d4b4"/>
<polygon points="248.5,419.75 252.11,422.37 250.73,426.62 246.27,426.62 244.89,422.37" fill="#94d4b4"/>
<polygon points="258.02,421.02 261.64,423.64 260.26,427.89 255.79,427.89 254.41,423.64" fill="#94d4b4"/>
<polygon points="267.55,422.29 271.16,424.91 269.78,429.16 265.32,429.16 263.94,424.91" fill="#94d4b4"/>
<polygon points="277.07,423.24 280.69,425.87 279.31,430.12 274.84,430.12 273.46,425.87" fill="#94d4b4"/>
<polygon points="286.6,423.08 290.21,425.71 288.83,429.96 284.37,429.96 282.99,425.71" fill="#94d4b4"/>
<polygon points="296.12,423.08 299.74,425.71 298.36,429.96 293.89,429.96 292.51,425.71" fill="#94d4b4"/>
<polygon points="305.65,423.56 309.26,426.19 307.88,430.43 303.42,430.43 302.04,426.19" fill="#94d4b4"/>
<polygon points="315.18,425.78 318.79,428.41 317.41,432.66 312.94,432.66 311.56,428.41" fill="#94d4b4"/>
<polygon points="324.7,425.15 328.31,427.77 326.93,432.02 322.47,432.02 321.09,427.77" fill="#94d4b4"/>
<polygon points="334.23,427.05 337.84,429.68 336.46,433.93 331.99,433.93 330.61,429.68" fill="#94d4b4"/>
<polygon points="343.75,426.42 347.36,429.04 345.98,433.29 341.52,433.29 340.14,429.04" fill="#94d4b4"/>
<polygon points="353.27,426.74 356.89,429.36 355.51,433.61 351.04,433.61 349.66,429.36" fill="#94d4b4"/>
<polygon points="362.8,428.96 366.41,431.59 365.03,435.83 360.57,435.83 359.19,431.59" fill="#94d4b4"/>
<polygon points="372.33,434.36 375.94,436.99 374.56,441.24 370.09,441.24 368.71,436.99" fill="#94d4b4"/>
<polygon points="381.85,497.58 385.46,500.21 384.08,504.46 379.62,504.46 378.24,500.21" fill="#94d4b4"/>
<polygon points="391.38,543.65 394.99,546.28 393.61,550.52 389.14,550.52 387.76,546.28" fill="#94d4b4"/>
<polygon points="400.9,558.58 404.51,561.21 403.13,565.46 398.67,565.46 397.29,561.21" fill="#94d4b4"/>
<polygon points="410.42,558.41 414.04,561.03 412.66,565.28 408.19,565.28 406.81,561.03" fill="#94d4b4"/>
<polygon points="419.95,558.96 423.56,561.58 422.18,565.83 417.72,565.83 416.34,561.58" fill="#94d4b4"/>
<polygon points="429.48,558.56 433.09,561.19 431.71,565.44 427.24,565.44 425.86,561.19" fill="#94d4b4"/>
<polygon points="439,559.14 442.61,561.76 441.23,566.01 436.77,566.01 435.39,561.76" fill="#94d4b4"/>
<polygon points="448.52,559.21 452.14,561.84 450.76,566.09 446.29,566.09 444.91,561.84" fill="#94d4b4"/>
<polygon points="458.05,559.19 461.66,561.82 460.28,566.07 455.82,566.07 454.44,561.82" fill="#94d4b4"/>
<polygon points="467.58,558.6 471.19,561.22 469.81,565.47 465.34,565.47 463.96,561.22" fill="#94d4b4"/>
<polygon points="477.1,558.38 480.71,561 479.33,565.25 474.87,565.25 473.49,561" fill="#94d4b4"/>
<polygon points="486.62,558.82 490.24,561.45 488.86,565.69 484.39,565.69 483.01,561.45" fill="#94d4b4"/>
<polygon points="496.15,558.41 499.76,561.04 498.38,565.29 493.92,565.29 492.54,561.04" fill="#94d4b4"/>
<polygon points="505.67,558.75 509.29,561.38 507.91,565.62 503.44,565.62 502.06,561.38" fill="#94d4b4"/>
<polygon points="515.2,558.65 518.81,561.27 517.43,565.52 512.97,565.52 511.59,561.27" fill="#94d4b4"/>
<polygon points="524.73,558.54 528.34,561.17 526.96,565.42 522.49,565.42 521.11,561.17" fill="#94d4b4"/>
<polygon points="534.25,558.82 537.86,561.44 536.48,565.69 532.02,565.69 530.64,561.44" fill="#94d4b4"/>
<polygon points="543.77,559.06 547.39,561.69 546.01,565.94 541.54,565.94 540.16,561.69" fill="#94d4b4"/>
<polygon points="553.3,558.59 556.91,561.21 555.53,565.46 551.07,565.46 549.69,561.21" fill="#94d4b4"/>
<polygon points="562.83,558.27 566.44,560.89 565.06,565.14 560.59,565.14 559.21,560.89" fill="#94d4b4"/>
<polygon points="572.35,559.19 575.96,561.81 574.58,566.06 570.12,566.06 568.74,561.81" fill="#94d4b4"/>
<polygon points="581.88,559.19 585.49,561.81 584.11,566.06 579.64,566.06 578.26,561.81" fill="#94d4b4"/>
<polygon points="591.4,558.54 595.01,561.17 593.63,565.42 589.17,565.42 587.79,561.17" fill="#94d4b4"/>
<polygon points="600.92,558.33 604.54,560.95 603.16,565.2 598.69,565.2 597.31,560.95" fill="#94d4b4"/>
<polygon points="610.45,558.7 614.06,561.33 612.68,565.58 608.22,565.58 606.84,561.33" fill="#94d4b4"/>
<polygon points="619.98,559.21 623.59,561.83 622.21,566.08 617.74,566.08 616.36,561.83" fill="#94d4b4"/>
<polygon points="629.5,558.8 633.11,561.42 631.73,565.67 627.27,565.67 625.89,561.42" fill="#94d4b4"/>
<polygon points="639.02,558.41 642.64,561.03 641.26,565.28 636.79,565.28 635.41,561.03" fill="#94d4b4"/>
<polygon points="648.55,559 652.16,561.63 650.78,565.88 646.32,565.88 644.94,561.63" fill="#94d4b4"/>
<polygon points="658.08,558.64 661.69,561.26 660.31,565.51 655.84,565.51 654.46,561.26" fill="#94d4b4"/>
<polyline points="105.62,404.49 115.15,411.47 124.67,412.11 134.2,413.38 143.72,413.7 153.25,415.92 162.77,417.51 172.3,417.83 181.82,418.15 191.35,419.42 200.88,420.05 210.4,421.64 219.93,421.96 229.45,423.86 238.97,423.86 248.5,424.82 258.02,426.09 267.55,427.04 277.07,427.99 286.6,429.27 296.12,429.27 305.65,429.58 315.18,432.12 324.7,432.12 334.23,432.76 343.75,433.08 353.27,433.71 362.8,436.57 372.33,475.97 381.85,487.4 391.38,536.33 400.9,562.38 410.42,562.45 419.95,562.53 429.48,562.75 439,562.57 448.52,562.77 458.05,562.24 467.58,562.28 477.1,563.16 486.62,562.34 496.15,562.26 505.67,562.26 515.2,562.54 524.73,562.93 534.25,562.58 543.77,562.79 553.3,562.51 562.83,562.58 572.35,562.32 581.88,562.61 591.4,562.71 600.92,562.99 610.45,562.92 619.98,562.36 629.5,562.52 639.02,562.59 648.55,562.26 658.08,562.89" fill="none" stroke="#e6c03c" stroke-width="1.3" stroke-dasharray="5,3"/>
<circle cx="105.62" cy="404.49" r="3.27" fill="#e6c03c"/>
<circle cx="115.15" cy="411.47" r="3.27" fill="#e6c03c"/>
<circle cx="124.67" cy="412.11" r="3.27" fill="#e6c03c"/>
<circle cx="134.2" cy="413.38" r="3.27" fill="#e6c03c"/>
<circle cx="143.72" cy="413.7" r="3.27" fill="#e6c03c"/>
<circle cx="153.25" cy="415.92" r="3.27" fill="#e6c03c"/>
<circle cx="162.77" cy="417.51" r="3.27" fill="#e6c03c"/>
<circle cx="172.3" cy="417.83" r="3.27" fill="#e6c03c"/>
<circle cx="181.82" cy="418.15" r="3.27" fill="#e6c03c"/>
<circle cx="191.35" cy="419.42" r="3.27" fill="#e6c03c"/>
<circle cx="200.88" cy="420.05" r="3.27" fill="#e6c03c"/>
<circle cx="210.4" cy="421.64" r="3.27" fill="#e6c03c"/>
<circle cx="219.93" cy="421.96" r="3.27" fill="#e6c03c"/>
<circle cx="229.45" cy="423.86" r="3.27" fill="#e6c03c"/>
<circle cx="238.97" cy="423.86" r="3.27" fill="#e6c03c"/>
<circle cx="248.5" cy="424.82" r="3.27" fill="#e6c03c"/>
<circle cx="258.02" cy="426.09" r="3.27" fill="#e6c03c"/>
<circle cx="267.55" cy="427.04" r="3.27" fill="#e6c03c"/>
<circle cx="277.07" cy="427.99" r="3.27" fill="#e6c03c"/>
<circle cx="286.6" cy="429.27" r="3.27" fill="#e6c03c"/>
<circle cx="296.12" cy="429.27" r="3.27" fill="#e6c03c"/>
<circle cx="305.65" cy="429.58" r="3.27" fill="#e6c03c"/>
<circle cx="315.18" cy="432.12" r="3.27" fill="#e6c03c"/>
<circle cx="324.7" cy="432.12" r="3.27" fill="#e6c03c"/>
<circle cx="334.23" cy="432.76" r="3.27" fill="#e6c03c"/>
<circle cx="343.75" cy="433.08" r="3.27" fill="#e6c03c"/>
<circle cx="353.27" cy="433.71" r="3.27" fill="#e6c03c"/>
<circle cx="362.8" cy="436.57" r="3.27" fill="#e6c03c"/>
<circle cx="372.33" cy="475.97" r="3.27" fill="#e6c03c"/>
<circle cx="381.85" cy="487.4" r="3.27" fill="#e6c03c"/>
<circle cx="391.38" cy="536.33" r="3.27" fill="#e6c03c"/>
<circle cx="400.9" cy="562.38" r="3.27" fill="#e6c03c"/>
<circle cx="410.42" cy="562.45" r="3.27" fill="#e6c03c"/>
<circle cx="419.95" cy="562.53" r="3.27" fill="#e6c03c"/>
<circle cx="429.48" cy="562.75" r="3.27" fill="#e6c03c"/>
<circle cx="439" cy="562.57" r="3.27" fill="#e6c03c"/>
<circle cx="448.52" cy="562.77" r="3.27" fill="#e6c03c"/>
<circle cx="458.05" cy="562.24" r="3.27" fill="#e6c03c"/>
<circle cx="467.58" cy="562.28" r="3.27" fill="#e6c03c"/>
<circle cx="477.1" cy="563.16" r="3.27" fill="#e6c03c"/>
<circle cx="486.62" cy="562.34" r="3.27" fill="#e6c03c"/>
<circle cx="496.15" cy="562.26" r="3.27" fill="#e6c03c"/>
<circle cx="505.67" cy="562.26" r="3.27" fill="#e6c03c"/>
<circle cx="515.2" cy="562.54" r="3.27" fill="#e6c03c"/>
<circle cx="524.73" cy="562.93" r="3.27" fill="#e6c03c"/>
<circle cx="534.25" cy="562.58" r="3.27" fill="#e6c03c"/>
<circle cx="543.77" cy="562.79" r="3.27" fill="#e6c03c"/>
<circle cx="553.3" cy="562.51" r="3.27" fill="#e6c03c"/>
<circle cx="562.83" cy="562.58" r="3.27" fill="#e6c03c"/>
<circle cx="572.35" cy="562.32" r="3.27" fill="#e6c03c"/>
<circle cx="581.88" cy="562.61" r="3.27" fill="#e6c03c"/>
<circle cx="591.4" cy="562.71" r="3.27" fill="#e6c03c"/>
<circle cx="600.92" cy="562.99" r="3.27" fill="#e6c03c"/>
<circle cx="610.45" cy="562.92" r="3.27" fill="#e6c03c"/>
<circle cx="619.98" cy="562.36" r="3.27" fill="#e6c03c"/>
<circle cx="629.5" cy="562.52" r="3.27" fill="#e6c03c"/>
<circle cx="639.02" cy="562.59" r="3.27" fill="#e6c03c"/>
<circle cx="648.55" cy="562.26" r="3.27" fill="#e6c03c"/>
<circle cx="658.08" cy="562.89" r="3.27" fill="#e6c03c"/>
</g>
<rect x="353.27" y="389.4" width="57.15" height="189" fill="#b8b8b8" fill-opacity="0.43"/>
<text x="355.37" y="404.1" font-size="13.2" fill="#000" font-weight="bold" font-family="&quot;Liberation Sans&quot;, sans-serif" textLength="53.33" lengthAdjust="spacingAndGlyphs" >Interface</text>
<rect x="276.6" y="405.3" width="57.7" height="48" fill="none" stroke="#e8242c" stroke-width="1.5"/>
<rect x="96.1" y="388.6" width="571.5" height="190.6" fill="none" stroke="#000" stroke-width="1.7"/>
<line x1="491.8" y1="406.8" x2="499.2" y2="406.8" stroke="#b84c3c" stroke-width="1.7"/>
<line x1="503" y1="406.8" x2="514.7" y2="406.8" stroke="#b84c3c" stroke-width="1.7"/>
<circle cx="507.4" cy="406.5" r="3.23" fill="url(#gBall)"/>
<text x="526.77" y="411.1" font-size="12.9" fill="#000" font-weight="bold" font-family="&quot;Liberation Sans&quot;, sans-serif" textLength="77.67" lengthAdjust="spacingAndGlyphs" >Cu/Diamond</text>
<line x1="491.8" y1="423.6" x2="499.2" y2="423.6" stroke="#5c5cf2" stroke-width="1.7"/>
<line x1="503" y1="423.6" x2="514.7" y2="423.6" stroke="#5c5cf2" stroke-width="1.7"/>
<polygon points="507.4,417.69 508.8,421.38 512.73,421.57 509.66,424.03 510.69,427.83 507.4,425.68 504.11,427.83 505.14,424.03 502.07,421.57 506,421.38" fill="#5c5cf2"/>
<text x="526.77" y="427.9" font-size="12.9" fill="#000" font-weight="bold" font-family="&quot;Liberation Sans&quot;, sans-serif" textLength="96.14" lengthAdjust="spacingAndGlyphs" >Cu/Cr/Diamond</text>
<line x1="491.8" y1="440.4" x2="499.2" y2="440.4" stroke="#f07474" stroke-width="1.7"/>
<line x1="503" y1="440.4" x2="514.7" y2="440.4" stroke="#f07474" stroke-width="1.7"/>
<polygon points="507.4,435.86 511.37,442.7 503.43,442.7" fill="#f07474"/>
<text x="526.77" y="444.7" font-size="12.9" fill="#000" font-weight="bold" font-family="&quot;Liberation Sans&quot;, sans-serif" textLength="100.56" lengthAdjust="spacingAndGlyphs" >Cu/Mo/Diamond</text>
<line x1="491.8" y1="457.2" x2="499.2" y2="457.2" stroke="#c6dc9a" stroke-width="1.7"/>
<line x1="503" y1="457.2" x2="514.7" y2="457.2" stroke="#c6dc9a" stroke-width="1.7"/>
<rect x="504.83" y="454.33" width="5.13" height="5.13" fill="#c6dc9a"/>
<text x="526.77" y="461.5" font-size="12.9" fill="#000" font-weight="bold" font-family="&quot;Liberation Sans&quot;, sans-serif" textLength="92.94" lengthAdjust="spacingAndGlyphs" >Cu/Ti/Diamond</text>
<line x1="491.8" y1="474" x2="499.2" y2="474" stroke="#d848f0" stroke-width="1.7"/>
<line x1="503" y1="474" x2="514.7" y2="474" stroke="#d848f0" stroke-width="1.7"/>
<polygon points="507.4,470 511.1,473.7 507.4,477.4 503.69,473.7" fill="#b070ec"/>
<text x="526.77" y="478.3" font-size="12.9" fill="#000" font-weight="bold" font-family="&quot;Liberation Sans&quot;, sans-serif" textLength="102.54" lengthAdjust="spacingAndGlyphs" >Cu/TiC/Diamond</text>
<line x1="491.8" y1="490.8" x2="499.2" y2="490.8" stroke="#c2c2c2" stroke-width="1.7"/>
<line x1="503" y1="490.8" x2="514.7" y2="490.8" stroke="#c2c2c2" stroke-width="1.7"/>
<circle cx="507.4" cy="490.5" r="3.13" fill="#c2c2c2"/>
<text x="526.77" y="495.1" font-size="12.9" fill="#000" font-weight="bold" font-family="&quot;Liberation Sans&quot;, sans-serif" textLength="93.91" lengthAdjust="spacingAndGlyphs" >Cu/W/Diamond</text>
<line x1="491.8" y1="507.6" x2="499.2" y2="507.6" stroke="#94d4b4" stroke-width="1.7"/>
<line x1="503" y1="507.6" x2="514.7" y2="507.6" stroke="#94d4b4" stroke-width="1.7"/>
<polygon points="507.4,503.69 510.83,506.18 509.52,510.22 505.28,510.22 503.97,506.18" fill="#94d4b4"/>
<text x="526.77" y="511.9" font-size="12.9" fill="#000" font-weight="bold" font-family="&quot;Liberation Sans&quot;, sans-serif" textLength="103.51" lengthAdjust="spacingAndGlyphs" >Cu/WC/Diamond</text>
<line x1="491.8" y1="524.4" x2="499.2" y2="524.4" stroke="#e6c03c" stroke-width="1.7"/>
<line x1="503" y1="524.4" x2="514.7" y2="524.4" stroke="#e6c03c" stroke-width="1.7"/>
<circle cx="507.4" cy="524.1" r="3.13" fill="#e6c03c"/>
<text x="526.77" y="528.7" font-size="12.9" fill="#000" font-weight="bold" font-family="&quot;Liberation Sans&quot;, sans-serif" textLength="103.51" lengthAdjust="spacingAndGlyphs" >Cu/CW/Diamond</text>
<path d="M110.6,457.9 L312.6,457.9 Q316.6,457.9 316.6,461.9 L316.6,562.1 Q316.6,566.6 312.1,566.6 L110.6,566.6 Z" fill="#fff" stroke="#ec2a2a" stroke-width="1.5" stroke-dasharray="6.8,4"/>
<g clip-path="url(#clipI)">
<polyline points="129.3,509.02 158.15,510.44 187,511.8 215.85,514.13 244.7,514.98 273.55,518.39 302.4,518.39" fill="none" stroke="#b84c3c" stroke-width="0.9" stroke-dasharray="3.5,2.2"/>
<circle cx="129.3" cy="509.02" r="2.11" fill="url(#gBall)"/>
<circle cx="158.15" cy="510.44" r="2.11" fill="url(#gBall)"/>
<circle cx="187" cy="511.8" r="2.11" fill="url(#gBall)"/>
<circle cx="215.85" cy="514.13" r="2.11" fill="url(#gBall)"/>
<circle cx="244.7" cy="514.98" r="2.11" fill="url(#gBall)"/>
<circle cx="273.55" cy="518.39" r="2.11" fill="url(#gBall)"/>
<circle cx="302.4" cy="518.39" r="2.11" fill="url(#gBall)"/>
<polyline points="129.3,526.91 158.15,529.18 187,531.17 215.85,533.16 244.7,533.16 273.55,534.3 302.4,538.84" fill="none" stroke="#5c5cf2" stroke-width="0.9" stroke-dasharray="3.5,2.2"/>
<polygon points="129.3,523.25 130.21,525.66 132.78,525.78 130.77,527.39 131.45,529.87 129.3,528.46 127.15,529.87 127.83,527.39 125.82,525.78 128.39,525.66" fill="#5c5cf2"/>
<polygon points="158.15,525.53 159.06,527.93 161.63,528.05 159.62,529.66 160.3,532.14 158.15,530.73 156,532.14 156.68,529.66 154.67,528.05 157.24,527.93" fill="#5c5cf2"/>
<polygon points="187,527.51 187.91,529.92 190.48,530.04 188.47,531.65 189.15,534.13 187,532.72 184.85,534.13 185.53,531.65 183.52,530.04 186.09,529.92" fill="#5c5cf2"/>
<polygon points="215.85,529.5 216.76,531.91 219.33,532.03 217.32,533.64 218,536.12 215.85,534.71 213.7,536.12 214.38,533.64 212.37,532.03 214.94,531.91" fill="#5c5cf2"/>
<polygon points="244.7,529.5 245.61,531.91 248.18,532.03 246.17,533.64 246.85,536.12 244.7,534.71 242.55,536.12 243.23,533.64 241.22,532.03 243.79,531.91" fill="#5c5cf2"/>
<polygon points="273.55,530.64 274.46,533.04 277.03,533.17 275.02,534.77 275.7,537.26 273.55,535.85 271.4,537.26 272.08,534.77 270.07,533.17 272.64,533.04" fill="#5c5cf2"/>
<polygon points="302.4,535.18 303.31,537.59 305.88,537.71 303.87,539.32 304.55,541.8 302.4,540.39 300.25,541.8 300.93,539.32 298.92,537.71 301.49,537.59" fill="#5c5cf2"/>
<polyline points="129.3,522.94 158.15,524.07 187,523.5 215.85,526.34 244.7,529.75 273.55,530.32 302.4,534.3" fill="none" stroke="#f07474" stroke-width="0.9" stroke-dasharray="3.5,2.2"/>
<polygon points="129.3,520.17 131.89,524.63 126.71,524.63" fill="#f07474"/>
<polygon points="158.15,521.3 160.74,525.77 155.56,525.77" fill="#f07474"/>
<polygon points="187,520.74 189.59,525.2 184.41,525.2" fill="#f07474"/>
<polygon points="215.85,523.58 218.44,528.04 213.26,528.04" fill="#f07474"/>
<polygon points="244.7,526.98 247.29,531.45 242.11,531.45" fill="#f07474"/>
<polygon points="273.55,527.55 276.14,532.02 270.96,532.02" fill="#f07474"/>
<polygon points="302.4,531.53 304.99,535.99 299.81,535.99" fill="#f07474"/>
<polyline points="129.3,530.89 158.15,534.3 187,536.57 215.85,540.54 244.7,540.54 273.55,543.38 302.4,544.52" fill="none" stroke="#c6dc9a" stroke-width="0.9" stroke-dasharray="3.5,2.2"/>
<rect x="127.63" y="529.21" width="3.35" height="3.35" fill="#c6dc9a"/>
<rect x="156.48" y="532.62" width="3.35" height="3.35" fill="#c6dc9a"/>
<rect x="185.33" y="534.89" width="3.35" height="3.35" fill="#c6dc9a"/>
<rect x="214.18" y="538.87" width="3.35" height="3.35" fill="#c6dc9a"/>
<rect x="243.03" y="538.87" width="3.35" height="3.35" fill="#c6dc9a"/>
<rect x="271.88" y="541.71" width="3.35" height="3.35" fill="#c6dc9a"/>
<rect x="300.73" y="542.85" width="3.35" height="3.35" fill="#c6dc9a"/>
<polyline points="129.3,521.8 158.15,524.64 187,528.05 215.85,529.18 244.7,532.59 273.55,535.43 302.4,539.98" fill="none" stroke="#d848f0" stroke-width="0.9" stroke-dasharray="3.5,2.2"/>
<polygon points="129.3,519.38 131.72,521.8 129.3,524.22 126.88,521.8" fill="#b070ec"/>
<polygon points="158.15,522.22 160.57,524.64 158.15,527.06 155.73,524.64" fill="#b070ec"/>
<polygon points="187,525.63 189.42,528.05 187,530.47 184.58,528.05" fill="#b070ec"/>
<polygon points="215.85,526.77 218.27,529.18 215.85,531.6 213.43,529.18" fill="#b070ec"/>
<polygon points="244.7,530.17 247.12,532.59 244.7,535.01 242.28,532.59" fill="#b070ec"/>
<polygon points="273.55,533.01 275.97,535.43 273.55,537.85 271.13,535.43" fill="#b070ec"/>
<polygon points="302.4,537.56 304.82,539.98 302.4,542.39 299.98,539.98" fill="#b070ec"/>
<polyline points="129.3,488.29 158.15,487.72 187,489.71 215.85,487.49 244.7,488.86 273.55,490.56 302.4,491.7" fill="none" stroke="#c2c2c2" stroke-width="0.9" stroke-dasharray="3.5,2.2"/>
<circle cx="129.3" cy="488.29" r="2.05" fill="#c2c2c2"/>
<circle cx="158.15" cy="487.72" r="2.05" fill="#c2c2c2"/>
<circle cx="187" cy="489.71" r="2.05" fill="#c2c2c2"/>
<circle cx="215.85" cy="487.49" r="2.05" fill="#c2c2c2"/>
<circle cx="244.7" cy="488.86" r="2.05" fill="#c2c2c2"/>
<circle cx="273.55" cy="490.56" r="2.05" fill="#c2c2c2"/>
<circle cx="302.4" cy="491.7" r="2.05" fill="#c2c2c2"/>
<polyline points="129.3,505.33 158.15,505.04 187,505.04 215.85,505.9 244.7,509.87 273.55,508.74 302.4,512.14" fill="none" stroke="#94d4b4" stroke-width="0.9" stroke-dasharray="3.5,2.2"/>
<polygon points="129.3,502.97 131.54,504.6 130.68,507.23 127.92,507.23 127.06,504.6" fill="#94d4b4"/>
<polygon points="158.15,502.69 160.39,504.32 159.53,506.95 156.77,506.95 155.91,504.32" fill="#94d4b4"/>
<polygon points="187,502.69 189.24,504.32 188.38,506.95 185.62,506.95 184.76,504.32" fill="#94d4b4"/>
<polygon points="215.85,503.54 218.09,505.17 217.23,507.8 214.47,507.8 213.61,505.17" fill="#94d4b4"/>
<polygon points="244.7,507.52 246.94,509.14 246.08,511.78 243.32,511.78 242.46,509.14" fill="#94d4b4"/>
<polygon points="273.55,506.38 275.79,508.01 274.93,510.64 272.17,510.64 271.31,508.01" fill="#94d4b4"/>
<polygon points="302.4,509.79 304.64,511.42 303.78,514.05 301.02,514.05 300.16,511.42" fill="#94d4b4"/>
<polyline points="129.3,507.03 158.15,509.3 187,509.3 215.85,509.87 244.7,514.42 273.55,514.42 302.4,515.55" fill="none" stroke="#e6c03c" stroke-width="0.9" stroke-dasharray="3.5,2.2"/>
<circle cx="129.3" cy="507.03" r="2.05" fill="#e6c03c"/>
<circle cx="158.15" cy="509.3" r="2.05" fill="#e6c03c"/>
<circle cx="187" cy="509.3" r="2.05" fill="#e6c03c"/>
<circle cx="215.85" cy="509.87" r="2.05" fill="#e6c03c"/>
<circle cx="244.7" cy="514.42" r="2.05" fill="#e6c03c"/>
<circle cx="273.55" cy="514.42" r="2.05" fill="#e6c03c"/>
<circle cx="302.4" cy="515.55" r="2.05" fill="#e6c03c"/>
</g>
<rect x="129.3" y="465" width="173.1" height="85.2" fill="none" stroke="#505050" stroke-width="1.2"/>
<text x="124.9" y="552.2" font-size="7.4" text-anchor="end" fill="#000" font-weight="bold" font-family="&quot;Liberation Sans&quot;, sans-serif" >310</text>
<line x1="129.3" y1="521.8" x2="132.8" y2="521.8" stroke="#5a5a5a" stroke-width="0.9"/>
<text x="124.9" y="523.8" font-size="7.4" text-anchor="end" fill="#000" font-weight="bold" font-family="&quot;Liberation Sans&quot;, sans-serif" >315</text>
<line x1="129.3" y1="493.4" x2="132.8" y2="493.4" stroke="#5a5a5a" stroke-width="0.9"/>
<text x="124.9" y="495.4" font-size="7.4" text-anchor="end" fill="#000" font-weight="bold" font-family="&quot;Liberation Sans&quot;, sans-serif" >320</text>
<text x="124.9" y="467" font-size="7.4" text-anchor="end" fill="#000" font-weight="bold" font-family="&quot;Liberation Sans&quot;, sans-serif" >325</text>
<line x1="129.3" y1="536" x2="131.3" y2="536" stroke="#5a5a5a" stroke-width="0.9"/>
<line x1="129.3" y1="507.6" x2="131.3" y2="507.6" stroke="#5a5a5a" stroke-width="0.9"/>
<line x1="129.3" y1="479.2" x2="131.3" y2="479.2" stroke="#5a5a5a" stroke-width="0.9"/>
<text x="129.3" y="561.2" font-size="7.6" text-anchor="middle" fill="#000" font-weight="bold" font-family="&quot;Liberation Sans&quot;, sans-serif" >95</text>
<line x1="158.15" y1="550.2" x2="158.15" y2="546.7" stroke="#5a5a5a" stroke-width="0.9"/>
<text x="158.15" y="561.2" font-size="7.6" text-anchor="middle" fill="#000" font-weight="bold" font-family="&quot;Liberation Sans&quot;, sans-serif" >100</text>
<line x1="187" y1="550.2" x2="187" y2="546.7" stroke="#5a5a5a" stroke-width="0.9"/>
<text x="187" y="561.2" font-size="7.6" text-anchor="middle" fill="#000" font-weight="bold" font-family="&quot;Liberation Sans&quot;, sans-serif" >105</text>
<line x1="215.85" y1="550.2" x2="215.85" y2="546.7" stroke="#5a5a5a" stroke-width="0.9"/>
<text x="215.85" y="561.2" font-size="7.6" text-anchor="middle" fill="#000" font-weight="bold" font-family="&quot;Liberation Sans&quot;, sans-serif" >110</text>
<line x1="244.7" y1="550.2" x2="244.7" y2="546.7" stroke="#5a5a5a" stroke-width="0.9"/>
<text x="244.7" y="561.2" font-size="7.6" text-anchor="middle" fill="#000" font-weight="bold" font-family="&quot;Liberation Sans&quot;, sans-serif" >115</text>
<line x1="273.55" y1="550.2" x2="273.55" y2="546.7" stroke="#5a5a5a" stroke-width="0.9"/>
<text x="273.55" y="561.2" font-size="7.6" text-anchor="middle" fill="#000" font-weight="bold" font-family="&quot;Liberation Sans&quot;, sans-serif" >120</text>
<text x="302.4" y="561.2" font-size="7.6" text-anchor="middle" fill="#000" font-weight="bold" font-family="&quot;Liberation Sans&quot;, sans-serif" >125</text>
<line x1="143.73" y1="550.2" x2="143.73" y2="548.2" stroke="#5a5a5a" stroke-width="0.9"/>
<line x1="172.58" y1="550.2" x2="172.58" y2="548.2" stroke="#5a5a5a" stroke-width="0.9"/>
<line x1="201.43" y1="550.2" x2="201.43" y2="548.2" stroke="#5a5a5a" stroke-width="0.9"/>
<line x1="230.28" y1="550.2" x2="230.28" y2="548.2" stroke="#5a5a5a" stroke-width="0.9"/>
<line x1="259.12" y1="550.2" x2="259.12" y2="548.2" stroke="#5a5a5a" stroke-width="0.9"/>
<line x1="287.98" y1="550.2" x2="287.98" y2="548.2" stroke="#5a5a5a" stroke-width="0.9"/>
</svg>
</body></html>
